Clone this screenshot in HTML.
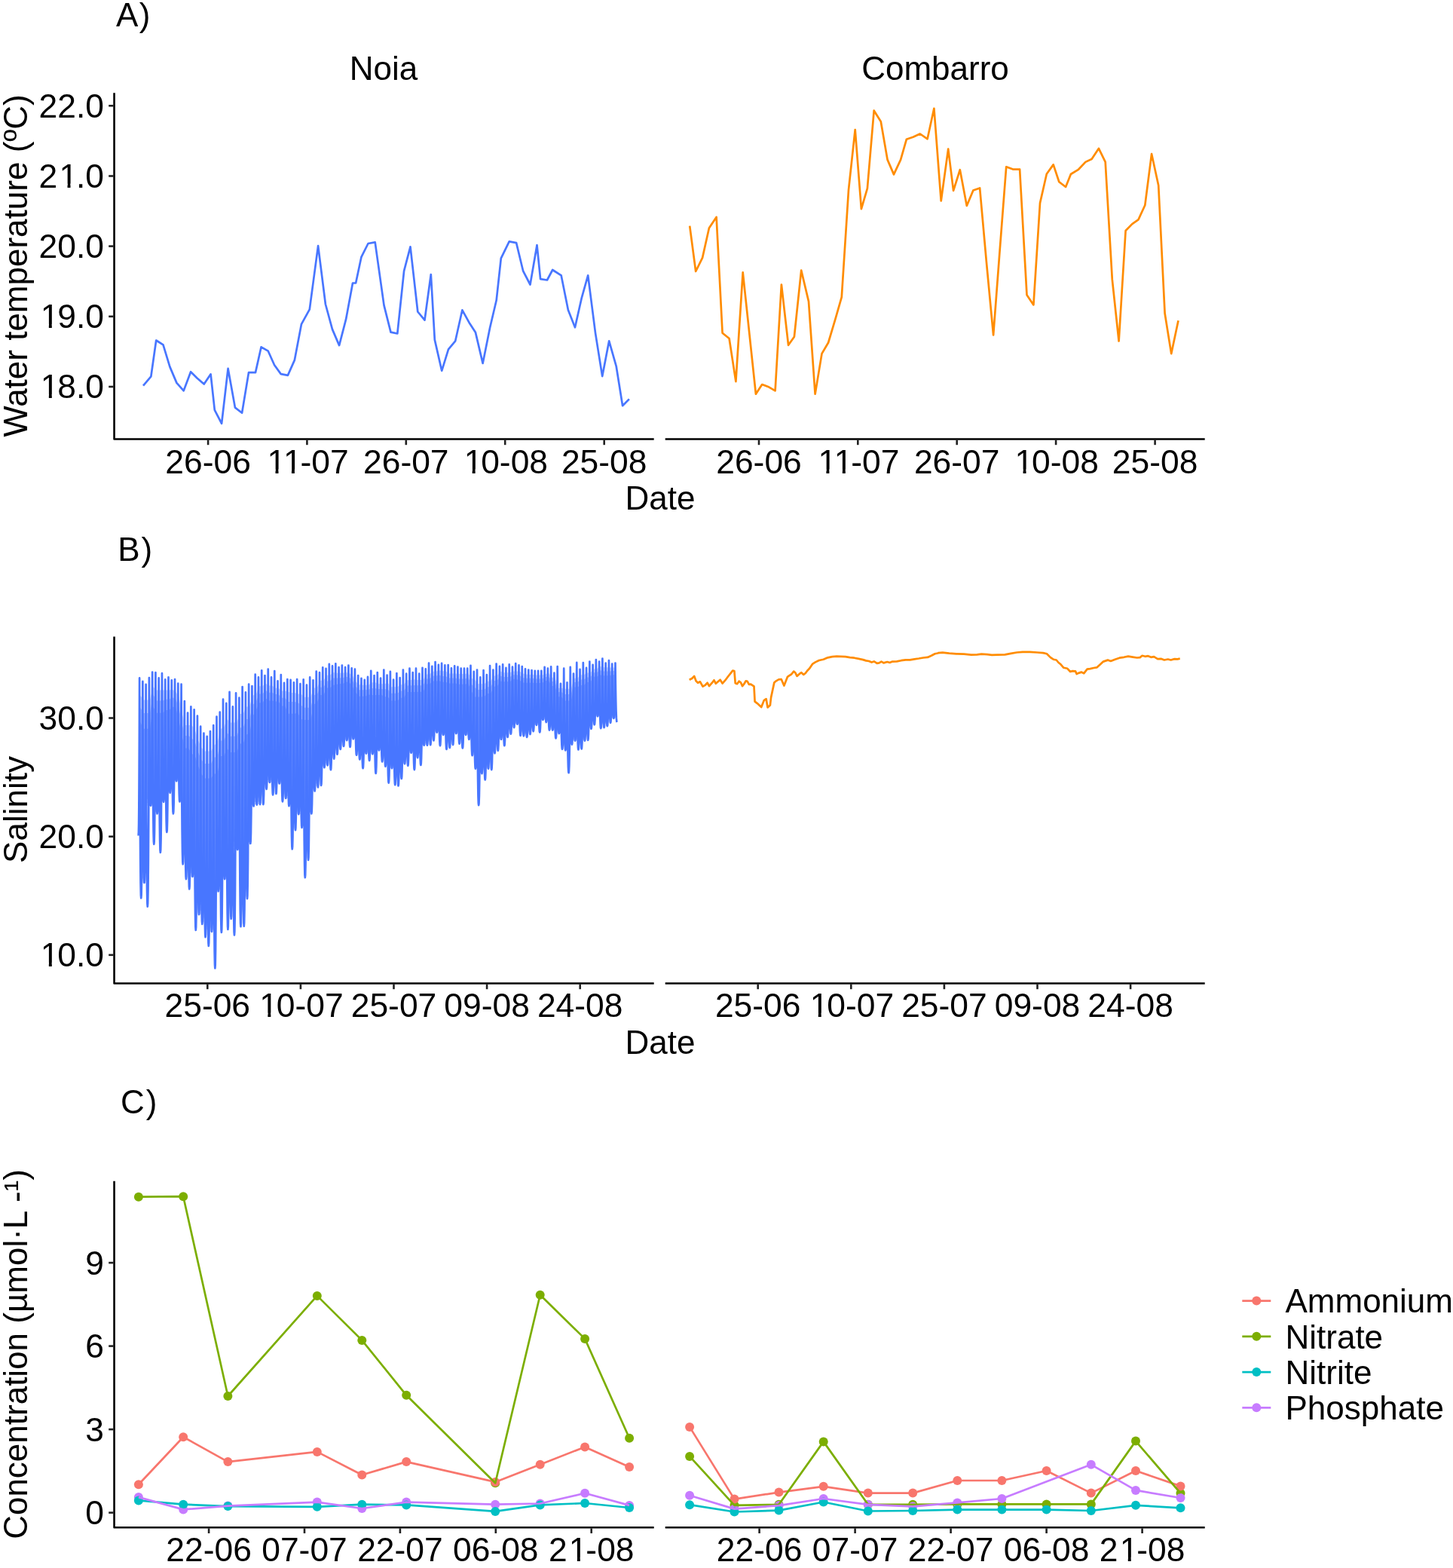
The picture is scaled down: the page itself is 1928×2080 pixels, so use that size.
<!DOCTYPE html>
<html lang="en">
<head>
<meta charset="utf-8">
<title>Water temperature, salinity and nutrient concentration - Noia and Combarro</title>
<style>
html,body{margin:0;padding:0;background:#fff;}
body{width:1928px;height:2080px;overflow:hidden;}
svg{display:block;}
svg text{font-family:"Liberation Sans", sans-serif;fill:#000;}
</style>
</head>
<body>
<svg width="1928" height="2080" viewBox="0 0 1928 2080">
<rect width="1928" height="2080" fill="#fff"/>
<text x="154.00" y="35.0" font-size="44px" text-anchor="start" dx="0 1.5">A)</text>
<text x="509.00" y="106.0" font-size="44px" text-anchor="middle" >Noia</text>
<text x="1241.00" y="106.0" font-size="44px" text-anchor="middle" >Combarro</text>
<path d="M151.55 123.30 L151.55 582.50 L867.70 582.50" fill="none" stroke="#000" stroke-width="2.60" stroke-linejoin="round"/>
<line x1="882.7" y1="582.5" x2="1598.7" y2="582.5" stroke="#000" stroke-width="2.60" stroke-linecap="butt"/>
<line x1="144.2" y1="140.3" x2="150.6" y2="140.3" stroke="#222" stroke-width="2.60" stroke-linecap="butt"/>
<text x="138.00" y="155.7" font-size="44.4px" text-anchor="end" >22.0</text>
<line x1="144.2" y1="233.5" x2="150.6" y2="233.5" stroke="#222" stroke-width="2.60" stroke-linecap="butt"/>
<text x="51.59" y="248.9" font-size="44.4px" text-anchor="start" dx="0 2.2 -2.2 0" class="one" >21.0</text>
<line x1="144.2" y1="326.6" x2="150.6" y2="326.6" stroke="#222" stroke-width="2.60" stroke-linecap="butt"/>
<text x="138.00" y="342.0" font-size="44.4px" text-anchor="end" >20.0</text>
<line x1="144.2" y1="419.8" x2="150.6" y2="419.8" stroke="#222" stroke-width="2.60" stroke-linecap="butt"/>
<text x="51.59" y="435.2" font-size="44.4px" text-anchor="start" dx="2.2 -2.2 0 0" class="one" >19.0</text>
<line x1="144.2" y1="513.0" x2="150.6" y2="513.0" stroke="#222" stroke-width="2.60" stroke-linecap="butt"/>
<text x="51.59" y="528.4" font-size="44.4px" text-anchor="start" dx="2.2 -2.2 0 0" class="one" >18.0</text>
<line x1="276.1" y1="583.5" x2="276.1" y2="590.2" stroke="#222" stroke-width="2.60" stroke-linecap="butt"/>
<text x="276.10" y="627.8" font-size="44.4px" text-anchor="middle" >26-06</text>
<line x1="407.4" y1="583.5" x2="407.4" y2="590.2" stroke="#222" stroke-width="2.60" stroke-linecap="butt"/>
<text x="352.27" y="627.8" font-size="44.4px" text-anchor="start" dx="2.2 0 -2.2 0 0" class="one" >11-07</text>
<line x1="538.8" y1="583.5" x2="538.8" y2="590.2" stroke="#222" stroke-width="2.60" stroke-linecap="butt"/>
<text x="538.80" y="627.8" font-size="44.4px" text-anchor="middle" >26-07</text>
<line x1="670.2" y1="583.5" x2="670.2" y2="590.2" stroke="#222" stroke-width="2.60" stroke-linecap="butt"/>
<text x="613.43" y="627.8" font-size="44.4px" text-anchor="start" dx="2.2 -2.2 0 0 0" class="one" >10-08</text>
<line x1="801.7" y1="583.5" x2="801.7" y2="590.2" stroke="#222" stroke-width="2.60" stroke-linecap="butt"/>
<text x="801.70" y="627.8" font-size="44.4px" text-anchor="middle" >25-08</text>
<line x1="1007.0" y1="583.5" x2="1007.0" y2="590.2" stroke="#222" stroke-width="2.60" stroke-linecap="butt"/>
<text x="1007.00" y="627.8" font-size="44.4px" text-anchor="middle" >26-06</text>
<line x1="1138.3" y1="583.5" x2="1138.3" y2="590.2" stroke="#222" stroke-width="2.60" stroke-linecap="butt"/>
<text x="1083.18" y="627.8" font-size="44.4px" text-anchor="start" dx="2.2 0 -2.2 0 0" class="one" >11-07</text>
<line x1="1269.7" y1="583.5" x2="1269.7" y2="590.2" stroke="#222" stroke-width="2.60" stroke-linecap="butt"/>
<text x="1269.70" y="627.8" font-size="44.4px" text-anchor="middle" >26-07</text>
<line x1="1401.1" y1="583.5" x2="1401.1" y2="590.2" stroke="#222" stroke-width="2.60" stroke-linecap="butt"/>
<text x="1344.33" y="627.8" font-size="44.4px" text-anchor="start" dx="2.2 -2.2 0 0 0" class="one" >10-08</text>
<line x1="1532.6" y1="583.5" x2="1532.6" y2="590.2" stroke="#222" stroke-width="2.60" stroke-linecap="butt"/>
<text x="1532.60" y="627.8" font-size="44.4px" text-anchor="middle" >25-08</text>
<text x="35.80" y="352.5" font-size="44px" text-anchor="middle" transform="rotate(-90 35.8 352.5)" >Water temperature (ºC)</text>
<text x="876.00" y="676.2" font-size="44px" text-anchor="middle" >Date</text>
<path d="M190.0 511.7 L200.4 499.3 L207.2 451.5 L216.5 457.4 L225.4 486.6 L234.4 507.9 L243.7 518.3 L253.1 493.2 L261.7 501.7 L270.7 509.5 L279.6 496.3 L284.8 543.8 L294.1 561.9 L302.6 488.9 L311.9 540.6 L321.1 547.7 L330.0 494.1 L339.0 494.1 L346.6 460.3 L355.8 465.7 L364.1 484.2 L372.7 496.1 L381.9 497.9 L390.9 477.6 L399.9 430.2 L410.8 410.4 L422.1 326.1 L431.9 403.5 L441.0 436.9 L450.1 458.1 L459.1 423.4 L468.0 375.5 L472.1 375.5 L479.5 340.8 L488.5 323.0 L497.7 321.4 L509.5 404.9 L518.5 440.6 L527.3 442.5 L536.1 359.4 L544.5 327.3 L554.3 413.5 L563.5 424.6 L571.8 364.0 L576.8 450.6 L586.2 491.8 L595.0 463.4 L604.2 452.3 L613.4 411.3 L622.4 427.7 L631.0 441.1 L640.6 481.9 L650.1 434.7 L658.7 398.3 L664.8 342.6 L675.7 320.4 L685.1 322.1 L694.2 359.7 L703.5 377.5 L712.5 325.2 L717.1 370.1 L726.0 371.5 L733.2 358.0 L744.7 365.4 L753.9 411.3 L763.0 434.3 L771.9 394.8 L780.2 365.4 L790.0 441.6 L799.2 499.1 L808.2 452.3 L817.7 485.8 L826.1 538.2 L834.9 529.4" fill="none" stroke="#4876FF" stroke-width="2.70" stroke-linejoin="round" stroke-linecap="butt" />
<path d="M915.2 299.6 L923.2 360.0 L932.1 341.9 L940.9 302.5 L950.6 287.9 L958.6 441.8 L967.6 449.0 L976.4 506.1 L985.7 361.4 L1002.9 522.7 L1011.2 510.0 L1019.2 512.9 L1028.6 518.4 L1036.9 377.5 L1046.1 457.8 L1053.9 446.7 L1063.2 358.6 L1073.0 399.9 L1081.6 522.7 L1090.5 469.1 L1099.1 454.5 L1108.4 423.3 L1116.8 394.1 L1126.0 251.9 L1134.7 172.0 L1142.9 277.2 L1150.9 249.9 L1159.7 146.7 L1168.8 161.3 L1177.6 211.9 L1186.0 231.4 L1195.1 211.9 L1202.9 184.7 L1211.7 181.8 L1220.8 177.5 L1230.6 184.3 L1239.4 143.8 L1248.7 266.5 L1258.2 197.7 L1265.1 252.9 L1273.8 225.2 L1282.8 272.9 L1291.4 252.5 L1300.1 249.4 L1308.9 347.3 L1318.1 444.4 L1326.8 329.8 L1335.2 221.3 L1344.0 224.6 L1353.1 224.6 L1362.5 391.2 L1371.4 404.4 L1380.0 269.4 L1388.8 230.8 L1397.7 218.4 L1405.3 241.2 L1414.1 248.0 L1420.9 231.0 L1430.6 225.2 L1440.4 214.9 L1448.6 211.0 L1457.9 196.9 L1466.7 214.9 L1475.8 370.7 L1484.6 452.5 L1493.6 306.0 L1502.3 297.1 L1510.5 291.4 L1519.3 272.3 L1528.1 204.2 L1537.2 246.0 L1545.6 415.5 L1554.2 469.1 L1563.5 425.3" fill="none" stroke="#FF8C00" stroke-width="2.70" stroke-linejoin="round" stroke-linecap="butt" />
<text x="156.20" y="743.6" font-size="44px" text-anchor="start" dx="0 2">B)</text>
<path d="M151.55 844.40 L151.55 1304.50 L867.70 1304.50" fill="none" stroke="#000" stroke-width="2.60" stroke-linejoin="round"/>
<line x1="882.7" y1="1304.5" x2="1598.7" y2="1304.5" stroke="#000" stroke-width="2.60" stroke-linecap="butt"/>
<line x1="144.2" y1="952.5" x2="150.6" y2="952.5" stroke="#222" stroke-width="2.60" stroke-linecap="butt"/>
<text x="138.00" y="967.9" font-size="44.4px" text-anchor="end" >30.0</text>
<line x1="144.2" y1="1109.7" x2="150.6" y2="1109.7" stroke="#222" stroke-width="2.60" stroke-linecap="butt"/>
<text x="138.00" y="1125.1" font-size="44.4px" text-anchor="end" >20.0</text>
<line x1="144.2" y1="1266.8" x2="150.6" y2="1266.8" stroke="#222" stroke-width="2.60" stroke-linecap="butt"/>
<text x="51.59" y="1282.2" font-size="44.4px" text-anchor="start" dx="2.2 -2.2 0 0" class="one" >10.0</text>
<line x1="275.3" y1="1305.5" x2="275.3" y2="1312.2" stroke="#222" stroke-width="2.60" stroke-linecap="butt"/>
<text x="275.30" y="1348.9" font-size="44.4px" text-anchor="middle" >25-06</text>
<line x1="398.9" y1="1305.5" x2="398.9" y2="1312.2" stroke="#222" stroke-width="2.60" stroke-linecap="butt"/>
<text x="342.13" y="1348.9" font-size="44.4px" text-anchor="start" dx="2.2 -2.2 0 0 0" class="one" >10-07</text>
<line x1="522.5" y1="1305.5" x2="522.5" y2="1312.2" stroke="#222" stroke-width="2.60" stroke-linecap="butt"/>
<text x="522.50" y="1348.9" font-size="44.4px" text-anchor="middle" >25-07</text>
<line x1="646.1" y1="1305.5" x2="646.1" y2="1312.2" stroke="#222" stroke-width="2.60" stroke-linecap="butt"/>
<text x="646.10" y="1348.9" font-size="44.4px" text-anchor="middle" >09-08</text>
<line x1="769.7" y1="1305.5" x2="769.7" y2="1312.2" stroke="#222" stroke-width="2.60" stroke-linecap="butt"/>
<text x="769.70" y="1348.9" font-size="44.4px" text-anchor="middle" >24-08</text>
<line x1="1005.7" y1="1305.5" x2="1005.7" y2="1312.2" stroke="#222" stroke-width="2.60" stroke-linecap="butt"/>
<text x="1005.70" y="1348.9" font-size="44.4px" text-anchor="middle" >25-06</text>
<line x1="1129.3" y1="1305.5" x2="1129.3" y2="1312.2" stroke="#222" stroke-width="2.60" stroke-linecap="butt"/>
<text x="1072.53" y="1348.9" font-size="44.4px" text-anchor="start" dx="2.2 -2.2 0 0 0" class="one" >10-07</text>
<line x1="1252.9" y1="1305.5" x2="1252.9" y2="1312.2" stroke="#222" stroke-width="2.60" stroke-linecap="butt"/>
<text x="1252.90" y="1348.9" font-size="44.4px" text-anchor="middle" >25-07</text>
<line x1="1376.5" y1="1305.5" x2="1376.5" y2="1312.2" stroke="#222" stroke-width="2.60" stroke-linecap="butt"/>
<text x="1376.50" y="1348.9" font-size="44.4px" text-anchor="middle" >09-08</text>
<line x1="1500.1" y1="1305.5" x2="1500.1" y2="1312.2" stroke="#222" stroke-width="2.60" stroke-linecap="butt"/>
<text x="1500.10" y="1348.9" font-size="44.4px" text-anchor="middle" >24-08</text>
<text x="35.80" y="1074.0" font-size="44px" text-anchor="middle" transform="rotate(-90 35.8 1074.0)" >Salinity</text>
<text x="876.00" y="1397.9" font-size="44px" text-anchor="middle" >Date</text>
<path d="M186.1 922.6 L190.4 928.4 L194.6 928.4 L198.9 928.4 L203.2 910.9 L207.4 915.6 L211.7 915.6 L216.0 915.6 L220.2 915.5 L224.5 915.5 L228.8 914.7 L233.0 917.6 L237.3 924.3 L241.6 946.5 L245.8 962.0 L250.1 962.0 L254.4 962.0 L258.6 967.9 L262.9 982.1 L267.2 991.4 L271.4 996.4 L275.7 996.4 L280.0 996.4 L284.2 988.7 L288.5 984.7 L292.8 966.9 L297.0 965.1 L301.3 953.9 L305.5 958.6 L309.8 958.6 L314.1 958.6 L318.3 947.0 L322.6 947.0 L326.9 937.5 L331.1 937.5 L335.4 922.4 L339.7 921.3 L343.9 910.2 L348.2 910.2 L352.5 906.7 L356.7 909.4 L361.0 909.4 L365.3 912.8 L369.5 912.8 L373.8 916.6 L378.1 916.6 L382.3 917.7 L386.6 919.0 L390.9 919.0 L395.1 920.6 L399.4 920.6 L403.7 924.8 L407.9 924.8 L412.2 924.8 L416.5 912.6 L420.7 912.6 L425.0 902.7 L429.3 902.7 L433.5 895.8 L437.8 895.8 L442.1 892.1 L446.3 892.8 L450.6 892.8 L454.9 892.8 L459.1 892.0 L463.4 892.9 L467.7 895.7 L471.9 903.9 L476.2 908.2 L480.5 908.8 L484.7 908.8 L489.0 908.8 L493.3 905.6 L497.5 905.1 L501.8 907.3 L506.0 907.3 L510.3 907.3 L514.6 905.7 L518.8 911.3 L523.1 911.3 L527.4 911.3 L531.6 908.3 L535.9 908.3 L540.2 902.3 L544.4 902.3 L548.7 901.2 L553.0 902.0 L557.2 902.0 L561.5 902.0 L565.8 894.4 L570.0 894.4 L574.3 890.7 L578.6 890.7 L582.8 889.3 L587.1 890.2 L591.4 890.2 L595.6 893.4 L599.9 893.4 L604.2 893.4 L608.4 894.1 L612.7 894.1 L617.0 894.1 L621.2 893.3 L625.5 899.8 L629.8 901.2 L634.0 907.3 L638.3 907.3 L642.6 907.3 L646.8 903.8 L651.1 903.8 L655.4 896.4 L659.6 896.4 L663.9 890.6 L668.2 892.3 L672.4 892.3 L676.7 892.3 L681.0 890.4 L685.2 890.4 L689.5 890.4 L693.8 893.6 L698.0 894.6 L702.3 894.9 L706.6 894.9 L710.8 895.5 L715.1 895.5 L719.4 895.5 L723.6 894.4 L727.9 892.4 L732.1 898.8 L736.4 898.8 L740.7 912.8 L744.9 912.8 L749.2 913.8 L753.5 913.8 L757.7 913.8 L762.0 899.8 L766.3 899.8 L770.5 895.2 L774.8 895.2 L779.1 892.6 L783.3 892.6 L787.6 887.4 L791.9 887.4 L796.1 883.7 L800.4 885.3 L804.7 885.3 L808.9 885.5 L813.2 885.5 L817.5 885.5 L817.5 952.9 L813.2 952.9 L808.9 952.9 L804.7 958.8 L800.4 963.2 L796.1 950.2 L791.9 950.2 L787.6 950.2 L783.3 961.3 L779.1 966.8 L774.8 981.8 L770.5 982.7 L766.3 982.7 L762.0 982.7 L757.7 982.7 L753.5 987.6 L749.2 993.8 L744.9 973.0 L740.7 973.0 L736.4 968.5 L732.1 968.5 L727.9 958.0 L723.6 954.9 L719.4 954.9 L715.1 954.9 L710.8 961.9 L706.6 961.9 L702.3 970.1 L698.0 974.0 L693.8 975.9 L689.5 960.7 L685.2 960.7 L681.0 960.7 L676.7 965.2 L672.4 973.6 L668.2 977.9 L663.9 980.8 L659.6 980.8 L655.4 995.8 L651.1 999.3 L646.8 1019.7 L642.6 1019.7 L638.3 1026.2 L634.0 1019.7 L629.8 1002.2 L625.5 980.8 L621.2 974.9 L617.0 974.9 L612.7 974.9 L608.4 973.0 L604.2 973.0 L599.9 973.0 L595.6 988.0 L591.4 974.9 L587.1 974.9 L582.8 971.6 L578.6 971.6 L574.3 971.6 L570.0 982.3 L565.8 988.2 L561.5 988.6 L557.2 988.6 L553.0 1005.1 L548.7 998.7 L544.4 998.7 L540.2 998.7 L535.9 1013.3 L531.6 1013.3 L527.4 1033.0 L523.1 1019.2 L518.8 1019.2 L514.6 1016.8 L510.3 1010.4 L506.0 995.4 L501.8 995.4 L497.5 995.4 L493.3 1000.3 L489.0 999.7 L484.7 999.7 L480.5 999.7 L476.2 1001.7 L471.9 980.3 L467.7 980.3 L463.4 980.3 L459.1 982.2 L454.9 982.2 L450.6 990.0 L446.3 993.9 L442.1 1000.7 L437.8 1006.6 L433.5 1015.3 L429.3 1015.3 L425.0 1018.2 L420.7 1041.9 L416.5 1044.4 L412.2 1049.5 L407.9 1079.3 L403.7 1097.9 L399.4 1080.1 L395.1 1080.1 L390.9 1080.1 L386.6 1069.2 L382.3 1059.0 L378.1 1059.0 L373.8 1039.5 L369.5 1039.5 L365.3 1039.5 L361.0 1037.9 L356.7 1037.9 L352.5 1037.9 L348.2 1046.8 L343.9 1067.1 L339.7 1067.1 L335.4 1067.6 L331.1 1069.5 L326.9 1119.0 L322.6 1192.1 L318.3 1127.1 L314.1 1127.1 L309.8 1127.1 L305.5 1218.9 L301.3 1166.1 L297.0 1166.1 L292.8 1166.1 L288.5 1182.3 L284.2 1182.3 L280.0 1235.9 L275.7 1235.9 L271.4 1225.8 L267.2 1213.2 L262.9 1213.2 L258.6 1162.9 L254.4 1162.9 L250.1 1162.9 L245.8 1146.3 L241.6 1063.5 L237.3 1036.2 L233.0 1036.2 L228.8 1036.2 L224.5 1051.7 L220.2 1051.7 L216.0 1063.8 L211.7 1063.8 L207.4 1079.3 L203.2 1068.7 L198.9 1068.7 L194.6 1068.7 L190.4 1171.0 L186.1 1171.0 Z" fill="#4876FF" fill-opacity="0.30" stroke="none"/>
<path d="M186.1 938.6 L190.4 946.1 L194.6 946.1 L198.9 946.1 L203.2 921.3 L207.4 929.5 L211.7 929.5 L216.0 929.5 L220.2 927.7 L224.5 927.7 L228.8 925.3 L233.0 927.0 L237.3 938.6 L241.6 960.7 L245.8 976.0 L250.1 976.0 L254.4 979.3 L258.6 983.8 L262.9 997.8 L267.2 1007.7 L271.4 1013.1 L275.7 1013.1 L280.0 1013.1 L284.2 1004.7 L288.5 1004.0 L292.8 982.6 L297.0 982.6 L301.3 971.9 L305.5 976.8 L309.8 976.8 L314.1 976.8 L318.3 965.2 L322.6 965.2 L326.9 953.9 L331.1 953.9 L335.4 935.1 L339.7 930.8 L343.9 920.4 L348.2 920.4 L352.5 915.7 L356.7 918.7 L361.0 918.7 L365.3 921.0 L369.5 921.0 L373.8 925.7 L378.1 925.7 L382.3 931.1 L386.6 931.1 L390.9 931.1 L395.1 932.0 L399.4 935.5 L403.7 938.8 L407.9 938.8 L412.2 938.8 L416.5 921.9 L420.7 921.5 L425.0 911.7 L429.3 911.7 L433.5 903.5 L437.8 903.5 L442.1 899.4 L446.3 899.4 L450.6 899.3 L454.9 899.3 L459.1 897.8 L463.4 898.6 L467.7 902.5 L471.9 910.6 L476.2 915.3 L480.5 915.3 L484.7 915.3 L489.0 914.7 L493.3 912.9 L497.5 912.9 L501.8 914.0 L506.0 914.0 L510.3 914.2 L514.6 914.2 L518.8 919.7 L523.1 919.7 L527.4 919.7 L531.6 916.4 L535.9 916.4 L540.2 909.6 L544.4 909.6 L548.7 908.9 L553.0 909.3 L557.2 909.3 L561.5 909.3 L565.8 900.4 L570.0 900.4 L574.3 896.6 L578.6 896.6 L582.8 895.8 L587.1 896.9 L591.4 896.9 L595.6 899.5 L599.9 899.5 L604.2 899.5 L608.4 900.4 L612.7 900.4 L617.0 900.4 L621.2 898.9 L625.5 907.5 L629.8 912.0 L634.0 915.0 L638.3 915.0 L642.6 915.0 L646.8 911.3 L651.1 911.3 L655.4 903.0 L659.6 903.0 L663.9 896.4 L668.2 897.9 L672.4 897.9 L676.7 897.9 L681.0 895.2 L685.2 895.2 L689.5 896.0 L693.8 899.0 L698.0 899.7 L702.3 899.7 L706.6 899.7 L710.8 900.4 L715.1 900.4 L719.4 900.4 L723.6 898.3 L727.9 897.3 L732.1 904.0 L736.4 904.0 L740.7 918.1 L744.9 918.1 L749.2 921.0 L753.5 921.0 L757.7 921.0 L762.0 905.1 L766.3 905.1 L770.5 901.6 L774.8 901.6 L779.1 898.4 L783.3 898.4 L787.6 892.2 L791.9 892.2 L796.1 889.1 L800.4 890.4 L804.7 890.4 L808.9 890.4 L813.2 889.9 L817.5 889.9 L817.5 951.5 L813.2 951.5 L808.9 951.5 L804.7 957.1 L800.4 961.6 L796.1 948.7 L791.9 948.7 L787.6 948.7 L783.3 959.7 L779.1 965.0 L774.8 979.8 L770.5 980.7 L766.3 980.9 L762.0 980.9 L757.7 980.9 L753.5 985.5 L749.2 992.1 L744.9 971.2 L740.7 971.2 L736.4 966.8 L732.1 966.8 L727.9 956.5 L723.6 953.6 L719.4 953.6 L715.1 953.6 L710.8 960.4 L706.6 960.4 L702.3 968.4 L698.0 972.3 L693.8 974.0 L689.5 959.1 L685.2 959.1 L681.0 959.1 L676.7 963.6 L672.4 971.7 L668.2 976.0 L663.9 978.8 L659.6 978.8 L655.4 993.5 L651.1 997.1 L646.8 1017.2 L642.6 1017.2 L638.3 1023.6 L634.0 1017.2 L629.8 999.8 L625.5 978.9 L621.2 973.2 L617.0 973.2 L612.7 973.2 L608.4 971.2 L604.2 971.2 L599.9 971.2 L595.6 986.0 L591.4 973.0 L587.1 973.0 L582.8 969.8 L578.6 969.8 L574.3 969.8 L570.0 980.4 L565.8 986.0 L561.5 986.5 L557.2 986.5 L553.0 1002.8 L548.7 996.5 L544.4 996.5 L540.2 996.5 L535.9 1010.8 L531.6 1010.8 L527.4 1030.3 L523.1 1016.6 L518.8 1016.6 L514.6 1014.3 L510.3 1008.2 L506.0 993.3 L501.8 993.3 L497.5 993.3 L493.3 998.1 L489.0 997.8 L484.7 997.8 L480.5 997.8 L476.2 999.4 L471.9 978.4 L467.7 978.4 L463.4 978.4 L459.1 980.3 L454.9 980.3 L450.6 987.8 L446.3 991.7 L442.1 998.3 L437.8 1004.1 L433.5 1012.8 L429.3 1012.8 L425.0 1015.6 L420.7 1038.9 L416.5 1041.3 L412.2 1046.6 L407.9 1075.6 L403.7 1094.1 L399.4 1076.5 L395.1 1076.5 L390.9 1076.5 L386.6 1065.8 L382.3 1055.9 L378.1 1055.9 L373.8 1036.8 L369.5 1036.8 L365.3 1036.8 L361.0 1034.9 L356.7 1034.9 L352.5 1034.9 L348.2 1043.8 L343.9 1063.5 L339.7 1063.7 L335.4 1064.1 L331.1 1066.3 L326.9 1114.8 L322.6 1186.6 L318.3 1123.0 L314.1 1123.0 L309.8 1123.0 L305.5 1212.8 L301.3 1161.3 L297.0 1161.3 L292.8 1161.3 L288.5 1177.7 L284.2 1177.7 L280.0 1230.6 L275.7 1230.6 L271.4 1220.6 L267.2 1207.9 L262.9 1207.9 L258.6 1158.3 L254.4 1158.3 L250.1 1158.3 L245.8 1141.5 L241.6 1060.4 L237.3 1033.5 L233.0 1033.5 L228.8 1033.5 L224.5 1048.6 L220.2 1048.6 L216.0 1060.4 L211.7 1060.4 L207.4 1075.5 L203.2 1065.3 L198.9 1065.3 L194.6 1065.3 L190.4 1165.6 L186.1 1165.6 Z" fill="#4876FF" fill-opacity="0.40" stroke="none"/>
<path d="M186.1 957.8 L190.4 966.8 L194.6 966.8 L198.9 966.8 L203.2 937.3 L207.4 945.7 L211.7 945.7 L216.0 945.7 L220.2 941.9 L224.5 941.9 L228.8 937.7 L233.0 938.0 L237.3 955.3 L241.6 977.2 L245.8 992.4 L250.1 992.4 L254.4 999.8 L258.6 1002.2 L262.9 1016.1 L267.2 1026.6 L271.4 1032.5 L275.7 1032.5 L280.0 1032.5 L284.2 1026.6 L288.5 1026.6 L292.8 1003.1 L297.0 1003.1 L301.3 992.9 L305.5 998.0 L309.8 998.0 L314.1 998.0 L318.3 986.4 L322.6 986.4 L326.9 974.6 L331.1 973.1 L335.4 949.9 L339.7 942.0 L343.9 932.2 L348.2 932.2 L352.5 926.2 L356.7 929.6 L361.0 929.6 L365.3 930.5 L369.5 930.5 L373.8 936.5 L378.1 936.5 L382.3 946.8 L386.6 946.8 L390.9 946.8 L395.1 945.4 L399.4 953.9 L403.7 955.0 L407.9 955.0 L412.2 955.0 L416.5 934.6 L420.7 931.8 L425.0 922.1 L429.3 922.1 L433.5 912.5 L437.8 912.5 L442.1 909.0 L446.3 908.1 L450.6 906.9 L454.9 906.9 L459.1 904.6 L463.4 905.1 L467.7 910.5 L471.9 918.4 L476.2 923.7 L480.5 923.7 L484.7 923.7 L489.0 921.5 L493.3 922.0 L497.5 922.0 L501.8 922.0 L506.0 921.7 L510.3 924.2 L514.6 924.2 L518.8 929.4 L523.1 929.4 L527.4 929.4 L531.6 925.8 L535.9 925.8 L540.2 918.1 L544.4 918.1 L548.7 917.9 L553.0 917.9 L557.2 917.8 L561.5 917.8 L565.8 907.5 L570.0 907.5 L574.3 903.5 L578.6 903.5 L582.8 903.3 L587.1 904.7 L591.4 904.7 L595.6 906.6 L599.9 906.6 L604.2 906.6 L608.4 907.8 L612.7 907.8 L617.0 907.8 L621.2 906.7 L625.5 916.6 L629.8 924.5 L634.0 924.5 L638.3 924.5 L642.6 923.9 L646.8 920.0 L651.1 920.0 L655.4 910.8 L659.6 910.8 L663.9 903.5 L668.2 904.3 L672.4 904.3 L676.7 904.3 L681.0 900.8 L685.2 901.1 L689.5 902.4 L693.8 905.4 L698.0 905.7 L702.3 905.7 L706.6 905.7 L710.8 906.1 L715.1 906.1 L719.4 906.1 L723.6 903.1 L727.9 903.1 L732.1 910.1 L736.4 910.1 L740.7 924.2 L744.9 924.2 L749.2 929.4 L753.5 929.4 L757.7 929.4 L762.0 911.4 L766.3 911.4 L770.5 909.0 L774.8 909.0 L779.1 905.1 L783.3 905.1 L787.6 897.7 L791.9 897.7 L796.1 895.3 L800.4 896.2 L804.7 896.2 L808.9 896.2 L813.2 895.2 L817.5 895.2 L817.5 949.3 L813.2 949.3 L808.9 949.3 L804.7 954.6 L800.4 959.1 L796.1 946.4 L791.9 946.4 L787.6 946.4 L783.3 957.3 L779.1 962.3 L774.8 977.0 L770.5 977.5 L766.3 978.3 L762.0 978.3 L757.7 978.3 L753.5 982.5 L749.2 989.5 L744.9 968.5 L740.7 968.5 L736.4 964.3 L732.1 964.3 L727.9 954.3 L723.6 951.6 L719.4 951.6 L715.1 951.6 L710.8 958.3 L706.6 958.3 L702.3 966.0 L698.0 969.7 L693.8 971.2 L689.5 956.7 L685.2 956.7 L681.0 956.7 L676.7 961.2 L672.4 969.0 L668.2 973.3 L663.9 975.9 L659.6 975.9 L655.4 990.0 L651.1 993.8 L646.8 1013.5 L642.6 1013.5 L638.3 1019.8 L634.0 1013.3 L629.8 996.2 L625.5 976.1 L621.2 970.5 L617.0 970.5 L612.7 970.5 L608.4 968.5 L604.2 968.5 L599.9 968.5 L595.6 982.9 L591.4 970.2 L587.1 970.2 L582.8 966.9 L578.6 966.9 L574.3 966.9 L570.0 977.4 L565.8 982.7 L561.5 983.4 L557.2 983.4 L553.0 999.2 L548.7 993.1 L544.4 993.1 L540.2 993.1 L535.9 1007.1 L531.6 1007.1 L527.4 1026.3 L523.1 1012.7 L518.8 1012.7 L514.6 1010.4 L510.3 1004.8 L506.0 990.2 L501.8 990.2 L497.5 990.2 L493.3 994.7 L489.0 994.7 L484.7 994.9 L480.5 994.9 L476.2 996.0 L471.9 975.6 L467.7 975.6 L463.4 975.6 L459.1 977.4 L454.9 977.4 L450.6 984.6 L446.3 988.5 L442.1 994.7 L437.8 1000.4 L433.5 1008.9 L429.3 1008.9 L425.0 1011.6 L420.7 1034.4 L416.5 1036.7 L412.2 1042.2 L407.9 1070.2 L403.7 1088.4 L399.4 1071.1 L395.1 1071.1 L390.9 1071.1 L386.6 1060.8 L382.3 1051.3 L378.1 1051.3 L373.8 1032.7 L369.5 1032.7 L365.3 1032.7 L361.0 1030.4 L356.7 1030.4 L352.5 1030.4 L348.2 1039.3 L343.9 1058.2 L339.7 1058.6 L335.4 1058.9 L331.1 1061.5 L326.9 1108.5 L322.6 1178.4 L318.3 1116.8 L314.1 1116.8 L309.8 1116.8 L305.5 1203.8 L301.3 1154.2 L297.0 1154.2 L292.8 1154.2 L288.5 1170.8 L284.2 1170.8 L280.0 1222.6 L275.7 1222.6 L271.4 1212.7 L267.2 1200.0 L262.9 1200.0 L258.6 1151.6 L254.4 1151.6 L250.1 1151.6 L245.8 1134.4 L241.6 1055.7 L237.3 1029.5 L233.0 1029.5 L228.8 1029.5 L224.5 1044.0 L220.2 1044.0 L216.0 1055.3 L211.7 1055.3 L207.4 1069.9 L203.2 1060.2 L198.9 1060.2 L194.6 1060.2 L190.4 1157.6 L186.1 1157.6 Z" fill="#4876FF" fill-opacity="0.50" stroke="none"/>
<path d="M183.60 1108.5 L183.85 1105.7 L184.10 1093.5 L184.35 1068.9 L184.60 1029.5 L184.85 973.5 L185.10 899.4 L185.46 1002.8 L185.81 1081.0 L186.17 1136.0 L186.52 1170.4 L186.88 1187.3 L187.23 1191.3 L187.59 1187.4 L187.94 1170.7 L188.30 1136.8 L188.66 1082.7 L189.01 1005.7 L189.37 903.9 L189.72 998.5 L190.08 1070.0 L190.43 1120.4 L190.79 1151.9 L191.14 1167.4 L191.50 1171.0 L191.85 1167.4 L192.21 1152.1 L192.57 1121.1 L192.92 1071.5 L193.28 1001.1 L193.63 907.8 L193.99 1012.3 L194.34 1091.2 L194.70 1146.8 L195.05 1181.5 L195.41 1198.6 L195.77 1202.6 L196.12 1198.5 L196.48 1180.9 L196.83 1145.1 L197.19 1087.9 L197.54 1006.6 L197.90 899.0 L198.25 959.2 L198.61 1004.6 L198.96 1036.6 L199.32 1056.6 L199.68 1066.4 L200.03 1068.7 L200.39 1066.3 L200.74 1056.0 L201.10 1035.2 L201.45 1001.8 L201.81 954.4 L202.16 891.6 L202.52 972.5 L202.88 1033.6 L203.23 1076.6 L203.59 1103.5 L203.94 1116.7 L204.30 1119.8 L204.65 1116.7 L205.01 1103.5 L205.36 1076.7 L205.72 1033.8 L206.07 972.9 L206.43 892.2 L206.79 958.5 L207.14 1008.6 L207.50 1043.8 L207.85 1065.9 L208.21 1076.7 L208.56 1079.3 L208.92 1076.8 L209.27 1066.4 L209.63 1045.2 L209.99 1011.3 L210.34 963.1 L210.70 899.4 L211.05 981.4 L211.41 1043.4 L211.76 1087.0 L212.12 1114.3 L212.47 1127.7 L212.83 1130.9 L213.18 1127.7 L213.54 1113.9 L213.90 1085.8 L214.25 1041.1 L214.61 977.4 L214.96 893.2 L215.32 953.7 L215.67 999.3 L216.03 1031.5 L216.38 1051.6 L216.74 1061.5 L217.09 1063.8 L217.45 1061.6 L217.81 1052.2 L218.16 1033.0 L218.52 1002.4 L218.87 958.9 L219.23 901.4 L219.58 973.2 L219.94 1027.4 L220.29 1065.5 L220.65 1089.4 L221.01 1101.2 L221.36 1103.9 L221.72 1101.1 L222.07 1089.2 L222.43 1065.0 L222.78 1026.3 L223.14 971.3 L223.49 898.4 L223.85 952.7 L224.21 993.8 L224.56 1022.6 L224.92 1040.7 L225.27 1049.6 L225.63 1051.7 L225.98 1049.6 L226.34 1041.0 L226.69 1023.4 L227.05 995.2 L227.40 955.3 L227.76 902.3 L228.12 965.0 L228.47 1012.4 L228.83 1045.7 L229.18 1066.6 L229.54 1076.9 L229.89 1079.3 L230.25 1076.8 L230.60 1066.5 L230.96 1045.5 L231.31 1011.9 L231.67 964.2 L232.03 901.0 L232.38 948.9 L232.74 985.1 L233.09 1010.6 L233.45 1026.5 L233.80 1034.4 L234.16 1036.2 L234.51 1034.5 L234.87 1027.0 L235.23 1011.7 L235.58 987.3 L235.94 952.6 L236.29 906.6 L236.65 962.2 L237.00 1004.2 L237.36 1033.8 L237.71 1052.3 L238.07 1061.4 L238.43 1063.5 L238.78 1061.4 L239.14 1052.3 L239.49 1034.0 L239.85 1004.6 L240.20 962.9 L240.56 907.6 L240.91 992.2 L241.27 1056.1 L241.62 1101.1 L241.98 1129.2 L242.34 1143.1 L242.69 1146.3 L243.05 1143.4 L243.40 1130.8 L243.76 1105.3 L244.11 1064.6 L244.47 1006.7 L244.82 930.0 L245.18 1013.7 L245.54 1076.9 L245.89 1121.4 L246.25 1149.2 L246.60 1162.9 L246.96 1166.1 L247.31 1163.1 L247.67 1150.3 L248.02 1124.3 L248.38 1082.8 L248.73 1023.7 L249.09 945.6 L249.45 1028.5 L249.80 1091.0 L250.16 1135.1 L250.51 1162.7 L250.87 1176.2 L251.22 1179.4 L251.58 1176.1 L251.93 1162.1 L252.29 1133.6 L252.65 1088.0 L253.00 1023.2 L253.36 937.4 L253.71 1017.3 L254.07 1077.7 L254.42 1120.1 L254.78 1146.7 L255.13 1159.8 L255.49 1162.9 L255.84 1159.9 L256.20 1147.0 L256.56 1120.9 L256.91 1079.1 L257.27 1019.8 L257.62 941.3 L257.98 1045.0 L258.33 1123.4 L258.69 1178.5 L259.04 1213.0 L259.40 1230.0 L259.75 1234.0 L260.11 1230.1 L260.47 1213.6 L260.82 1180.1 L261.18 1126.5 L261.53 1050.3 L261.89 949.5 L262.24 1042.9 L262.60 1113.5 L262.95 1163.2 L263.31 1194.3 L263.67 1209.6 L264.02 1213.2 L264.38 1209.8 L264.73 1195.3 L265.09 1165.9 L265.44 1118.9 L265.80 1052.1 L266.15 963.7 L266.51 1056.6 L266.87 1126.8 L267.22 1176.2 L267.58 1207.1 L267.93 1222.3 L268.29 1225.8 L268.64 1222.4 L269.00 1207.7 L269.35 1177.8 L269.71 1130.1 L270.06 1062.3 L270.42 972.5 L270.78 1068.4 L271.13 1140.9 L271.49 1191.9 L271.84 1223.8 L272.20 1239.5 L272.55 1243.2 L272.91 1239.6 L273.26 1224.1 L273.62 1192.8 L273.97 1142.6 L274.33 1071.3 L274.69 976.9 L275.04 1075.5 L275.40 1149.9 L275.75 1202.2 L276.11 1235.0 L276.46 1251.1 L276.82 1254.9 L277.17 1251.0 L277.53 1234.5 L277.89 1200.9 L278.24 1147.3 L278.60 1071.1 L278.95 970.1 L279.31 1064.3 L279.66 1135.5 L280.02 1185.6 L280.37 1216.9 L280.73 1232.3 L281.08 1235.9 L281.44 1232.2 L281.80 1216.3 L282.15 1184.0 L282.51 1132.5 L282.86 1059.2 L283.22 962.1 L283.57 1076.3 L283.93 1162.5 L284.28 1223.3 L284.64 1261.2 L285.00 1279.9 L285.35 1284.3 L285.71 1279.8 L286.06 1260.4 L286.42 1221.1 L286.77 1158.2 L287.13 1068.9 L287.48 950.6 L287.84 1032.8 L288.19 1094.8 L288.55 1138.4 L288.91 1165.7 L289.26 1179.2 L289.62 1182.3 L289.97 1179.1 L290.33 1165.3 L290.68 1137.3 L291.04 1092.5 L291.39 1028.9 L291.75 944.6 L292.11 1048.2 L292.46 1126.5 L292.82 1181.6 L293.17 1216.1 L293.53 1233.1 L293.88 1237.0 L294.24 1232.8 L294.59 1214.9 L294.95 1178.4 L295.30 1120.1 L295.66 1037.3 L296.02 927.7 L296.37 1012.2 L296.73 1076.0 L297.08 1120.9 L297.44 1149.0 L297.79 1162.9 L298.15 1166.1 L298.50 1162.9 L298.86 1149.4 L299.22 1121.9 L299.57 1078.0 L299.93 1015.6 L300.28 932.9 L300.64 1039.3 L300.99 1119.6 L301.35 1176.1 L301.70 1211.5 L302.06 1228.9 L302.41 1233.0 L302.77 1228.7 L303.13 1210.4 L303.48 1173.3 L303.84 1113.9 L304.19 1029.6 L304.55 917.9 L304.90 1024.6 L305.26 1105.1 L305.61 1161.8 L305.97 1197.3 L306.33 1214.8 L306.68 1218.9 L307.04 1215.0 L307.39 1198.7 L307.75 1165.5 L308.10 1112.5 L308.46 1037.2 L308.81 937.4 L309.17 1044.8 L309.52 1125.9 L309.88 1183.0 L310.24 1218.8 L310.59 1236.3 L310.95 1240.5 L311.30 1236.1 L311.66 1217.5 L312.01 1179.6 L312.37 1119.1 L312.72 1033.1 L313.08 919.3 L313.44 992.9 L313.79 1048.6 L314.15 1087.8 L314.50 1112.3 L314.86 1124.3 L315.21 1127.1 L315.57 1124.4 L315.92 1112.7 L316.28 1089.0 L316.63 1051.0 L316.99 997.1 L317.35 925.7 L317.70 1033.2 L318.06 1114.4 L318.41 1171.6 L318.77 1207.4 L319.12 1225.0 L319.48 1229.1 L319.83 1224.8 L320.19 1206.3 L320.55 1168.8 L320.90 1108.9 L321.26 1023.8 L321.61 911.1 L321.97 1023.6 L322.32 1108.6 L322.68 1168.4 L323.03 1205.9 L323.39 1224.3 L323.74 1228.6 L324.10 1224.4 L324.46 1206.4 L324.81 1169.8 L325.17 1111.3 L325.52 1028.3 L325.88 918.3 L326.23 1015.3 L326.59 1088.6 L326.94 1140.2 L327.30 1172.5 L327.66 1188.4 L328.01 1192.1 L328.37 1188.2 L328.72 1171.7 L329.08 1138.2 L329.43 1084.6 L329.79 1008.4 L330.14 907.6 L330.50 982.5 L330.86 1039.1 L331.21 1079.0 L331.57 1103.9 L331.92 1116.2 L332.28 1119.0 L332.63 1116.2 L332.99 1104.1 L333.34 1079.4 L333.70 1040.1 L334.05 984.2 L334.41 910.1 L334.77 966.6 L335.12 1009.3 L335.48 1039.3 L335.83 1058.1 L336.19 1067.4 L336.54 1069.5 L336.90 1067.1 L337.25 1057.0 L337.61 1036.4 L337.96 1003.4 L338.32 956.6 L338.68 894.5 L339.03 955.9 L339.39 1002.2 L339.74 1034.8 L340.10 1055.2 L340.45 1065.2 L340.81 1067.6 L341.16 1065.3 L341.52 1055.5 L341.88 1035.5 L342.23 1003.7 L342.59 958.4 L342.94 898.4 L343.30 958.2 L343.65 1003.3 L344.01 1035.1 L344.36 1055.0 L344.72 1064.8 L345.07 1067.1 L345.43 1064.7 L345.79 1054.3 L346.14 1033.4 L346.50 999.9 L346.85 952.3 L347.21 889.3 L347.56 952.3 L347.92 999.9 L348.27 1033.4 L348.63 1054.3 L348.99 1064.7 L349.34 1067.1 L349.70 1064.8 L350.05 1054.8 L350.41 1034.7 L350.76 1002.5 L351.12 956.7 L351.47 896.1 L351.83 949.5 L352.19 989.8 L352.54 1018.2 L352.90 1036.0 L353.25 1044.7 L353.61 1046.8 L353.96 1044.6 L354.32 1035.4 L354.67 1016.6 L355.03 986.7 L355.38 944.1 L355.74 887.7 L356.10 940.9 L356.45 981.1 L356.81 1009.4 L357.16 1027.1 L357.52 1035.8 L357.87 1037.9 L358.23 1036.0 L358.58 1027.9 L358.94 1011.4 L359.29 985.2 L359.65 947.9 L360.01 898.4 L360.36 953.7 L360.72 995.5 L361.07 1024.9 L361.43 1043.2 L361.78 1052.3 L362.14 1054.4 L362.49 1052.2 L362.85 1042.6 L363.21 1023.3 L363.56 992.3 L363.92 948.3 L364.27 890.1 L364.63 947.8 L364.98 991.4 L365.34 1022.1 L365.69 1041.3 L366.05 1050.7 L366.40 1053.0 L366.76 1050.9 L367.12 1042.2 L367.47 1024.6 L367.83 996.4 L368.18 956.3 L368.54 903.3 L368.89 951.6 L369.25 988.0 L369.60 1013.7 L369.96 1029.7 L370.32 1037.6 L370.67 1039.5 L371.03 1037.5 L371.38 1029.1 L371.74 1012.1 L372.09 984.9 L372.45 946.3 L372.80 895.1 L373.16 954.7 L373.51 999.8 L373.87 1031.5 L374.23 1051.3 L374.58 1061.1 L374.94 1063.3 L375.29 1061.2 L375.65 1052.1 L376.00 1033.5 L376.36 1003.8 L376.71 961.7 L377.07 905.8 L377.43 960.1 L377.78 1001.1 L378.14 1030.0 L378.49 1048.0 L378.85 1056.9 L379.20 1059.0 L379.56 1056.8 L379.91 1047.6 L380.27 1029.0 L380.62 999.3 L380.98 957.0 L381.34 901.0 L381.69 960.6 L382.05 1005.6 L382.40 1037.3 L382.76 1057.1 L383.11 1066.9 L383.47 1069.2 L383.82 1066.9 L384.18 1057.2 L384.54 1037.5 L384.89 1006.0 L385.25 961.2 L385.60 901.9 L385.96 981.5 L386.31 1041.5 L386.67 1083.8 L387.02 1110.3 L387.38 1123.3 L387.73 1126.3 L388.09 1123.3 L388.45 1110.5 L388.80 1084.4 L389.16 1042.8 L389.51 983.6 L389.87 905.3 L390.22 974.7 L390.58 1027.1 L390.93 1064.1 L391.29 1087.1 L391.65 1098.5 L392.00 1101.2 L392.36 1098.5 L392.71 1086.8 L393.07 1063.2 L393.42 1025.5 L393.78 971.9 L394.13 901.0 L394.49 964.4 L394.85 1012.4 L395.20 1046.1 L395.56 1067.2 L395.91 1077.6 L396.27 1080.1 L396.62 1077.7 L396.98 1067.7 L397.33 1047.3 L397.69 1014.7 L398.04 968.5 L398.40 907.2 L398.76 974.8 L399.11 1025.9 L399.47 1061.8 L399.82 1084.3 L400.18 1095.3 L400.53 1097.9 L400.89 1095.3 L401.24 1083.8 L401.60 1060.7 L401.95 1023.6 L402.31 971.0 L402.67 901.4 L403.02 994.5 L403.38 1064.8 L403.73 1114.4 L404.09 1145.3 L404.44 1160.6 L404.80 1164.2 L405.15 1160.7 L405.51 1145.9 L405.87 1115.7 L406.22 1067.6 L406.58 999.1 L406.93 908.6 L407.29 990.9 L407.64 1053.1 L408.00 1096.9 L408.35 1124.3 L408.71 1137.8 L409.06 1140.9 L409.42 1137.7 L409.78 1123.6 L410.13 1095.0 L410.49 1049.3 L410.84 984.4 L411.20 898.4 L411.55 962.5 L411.91 1010.9 L412.26 1045.0 L412.62 1066.3 L412.98 1076.8 L413.33 1079.3 L413.69 1076.9 L414.04 1066.6 L414.40 1045.7 L414.75 1012.4 L415.11 965.0 L415.46 902.3 L415.82 954.5 L416.18 993.9 L416.53 1021.7 L416.89 1039.0 L417.24 1047.5 L417.60 1049.5 L417.95 1047.4 L418.31 1038.2 L418.66 1019.4 L419.02 989.5 L419.37 947.0 L419.73 890.6 L420.09 945.1 L420.44 986.3 L420.80 1015.2 L421.15 1033.3 L421.51 1042.3 L421.86 1044.4 L422.22 1042.3 L422.57 1033.5 L422.93 1015.5 L423.28 986.9 L423.64 946.1 L424.00 892.2 L424.35 945.3 L424.71 985.3 L425.06 1013.6 L425.42 1031.2 L425.77 1039.9 L426.13 1041.9 L426.48 1039.8 L426.84 1030.7 L427.20 1012.3 L427.55 982.8 L427.91 940.9 L428.26 885.4 L428.62 932.5 L428.97 968.0 L429.33 993.1 L429.68 1008.7 L430.04 1016.4 L430.39 1018.2 L430.75 1016.5 L431.11 1008.8 L431.46 993.3 L431.82 968.6 L432.17 933.4 L432.53 886.8 L432.88 932.3 L433.24 966.7 L433.59 991.0 L433.95 1006.1 L434.31 1013.6 L434.66 1015.3 L435.02 1013.5 L435.37 1005.7 L435.73 989.9 L436.08 964.5 L436.44 928.5 L436.79 880.9 L437.15 930.6 L437.50 968.2 L437.86 994.6 L438.22 1011.1 L438.57 1019.3 L438.93 1021.2 L439.28 1019.3 L439.64 1011.3 L439.99 995.1 L440.35 969.1 L440.70 932.3 L441.06 883.4 L441.42 927.1 L441.77 960.0 L442.13 983.2 L442.48 997.7 L442.84 1004.9 L443.19 1006.6 L443.55 1004.8 L443.90 997.5 L444.26 982.6 L444.62 958.9 L444.97 925.1 L445.33 880.3 L445.68 923.0 L446.04 955.2 L446.39 977.9 L446.75 992.1 L447.10 999.1 L447.46 1000.7 L447.81 999.1 L448.17 992.4 L448.53 978.8 L448.88 957.1 L449.24 926.1 L449.59 885.2 L449.95 923.7 L450.30 952.8 L450.66 973.3 L451.01 986.1 L451.37 992.4 L451.72 993.9 L452.08 992.4 L452.44 985.9 L452.79 972.8 L453.15 951.8 L453.50 922.0 L453.86 882.5 L454.21 920.6 L454.57 949.4 L454.92 969.6 L455.28 982.3 L455.64 988.5 L455.99 990.0 L456.35 988.6 L456.70 982.5 L457.06 970.1 L457.41 950.4 L457.77 922.3 L458.12 885.2 L458.48 919.6 L458.84 945.5 L459.19 963.8 L459.55 975.3 L459.90 980.9 L460.26 982.2 L460.61 980.9 L460.97 975.1 L461.32 963.3 L461.68 944.5 L462.03 917.8 L462.39 882.5 L462.75 920.9 L463.10 950.0 L463.46 970.4 L463.81 983.2 L464.17 989.5 L464.52 991.0 L464.88 989.6 L465.23 983.5 L465.59 971.2 L465.94 951.4 L466.30 923.4 L466.66 886.4 L467.01 919.6 L467.37 944.8 L467.72 962.5 L468.08 973.5 L468.43 979.0 L468.79 980.3 L469.14 979.0 L469.50 973.6 L469.86 962.7 L470.21 945.3 L470.57 920.5 L470.92 887.7 L471.28 928.1 L471.63 958.6 L471.99 980.1 L472.34 993.5 L472.70 1000.1 L473.06 1001.7 L473.41 1000.3 L473.77 994.1 L474.12 981.7 L474.48 961.8 L474.83 933.5 L475.19 896.1 L475.54 935.6 L475.90 965.4 L476.25 986.4 L476.61 999.6 L476.97 1006.0 L477.32 1007.5 L477.68 1006.1 L478.03 999.8 L478.39 987.1 L478.74 966.8 L479.10 938.0 L479.45 899.8 L479.81 942.1 L480.16 974.1 L480.52 996.6 L480.88 1010.7 L481.23 1017.6 L481.59 1019.2 L481.94 1017.6 L482.30 1010.8 L482.65 997.0 L483.01 974.9 L483.36 943.5 L483.72 901.9 L484.08 936.6 L484.43 962.8 L484.79 981.2 L485.14 992.7 L485.50 998.4 L485.85 999.7 L486.21 998.4 L486.56 992.4 L486.92 980.4 L487.27 961.2 L487.63 934.0 L487.99 897.9 L488.34 937.3 L488.70 967.0 L489.05 988.0 L489.41 1001.1 L489.76 1007.5 L490.12 1009.0 L490.47 1007.4 L490.83 1000.5 L491.19 986.4 L491.54 964.0 L491.90 932.1 L492.25 889.8 L492.61 929.0 L492.96 958.5 L493.32 979.3 L493.67 992.4 L494.03 998.8 L494.38 1000.3 L494.74 998.8 L495.10 992.8 L495.45 980.5 L495.81 960.9 L496.16 933.0 L496.52 896.0 L496.87 942.1 L497.23 976.9 L497.58 1001.4 L497.94 1016.7 L498.30 1024.2 L498.65 1026.0 L499.01 1024.2 L499.36 1016.4 L499.72 1000.6 L500.07 975.4 L500.43 939.6 L500.78 892.1 L501.14 928.7 L501.50 956.4 L501.85 975.8 L502.21 988.0 L502.56 994.0 L502.92 995.4 L503.27 994.1 L503.63 988.5 L503.98 977.2 L504.34 959.2 L504.69 933.5 L505.05 899.5 L505.41 938.8 L505.76 968.5 L506.12 989.4 L506.47 1002.5 L506.83 1008.9 L507.18 1010.4 L507.54 1008.7 L507.89 1001.7 L508.25 987.3 L508.61 964.4 L508.96 931.8 L509.32 888.6 L509.67 934.1 L510.03 968.4 L510.38 992.5 L510.74 1007.6 L511.09 1015.1 L511.45 1016.8 L511.80 1015.2 L512.16 1008.1 L512.52 993.9 L512.87 971.0 L513.23 938.6 L513.58 895.6 L513.94 946.3 L514.29 984.6 L514.65 1011.5 L515.00 1028.4 L515.36 1036.7 L515.72 1038.6 L516.07 1036.6 L516.43 1028.0 L516.78 1010.6 L517.14 982.8 L517.49 943.2 L517.85 890.8 L518.20 936.3 L518.56 970.6 L518.91 994.8 L519.27 1010.0 L519.63 1017.4 L519.98 1019.2 L520.34 1017.6 L520.69 1010.7 L521.05 996.9 L521.40 974.7 L521.76 943.2 L522.11 901.5 L522.47 951.0 L522.83 988.4 L523.18 1014.7 L523.54 1031.2 L523.89 1039.3 L524.25 1041.2 L524.60 1039.2 L524.96 1030.6 L525.31 1013.1 L525.67 985.2 L526.02 945.6 L526.38 893.1 L526.74 946.1 L527.09 986.1 L527.45 1014.2 L527.80 1031.8 L528.16 1040.5 L528.51 1042.5 L528.87 1040.6 L529.22 1032.3 L529.58 1015.3 L529.93 988.3 L530.29 949.8 L530.65 899.0 L531.00 946.5 L531.36 982.3 L531.71 1007.6 L532.07 1023.4 L532.42 1031.2 L532.78 1033.0 L533.13 1031.0 L533.49 1022.7 L533.85 1005.6 L534.20 978.4 L534.56 939.8 L534.91 888.6 L535.27 932.8 L535.62 966.2 L535.98 989.7 L536.33 1004.4 L536.69 1011.6 L537.05 1013.3 L537.40 1011.7 L537.76 1004.7 L538.11 990.6 L538.47 968.1 L538.82 936.1 L539.18 893.7 L539.53 937.0 L539.89 969.7 L540.24 992.7 L540.60 1007.1 L540.96 1014.2 L541.31 1015.8 L541.67 1014.1 L542.02 1006.6 L542.38 991.4 L542.73 967.0 L543.09 932.5 L543.44 886.7 L543.80 926.4 L544.15 956.4 L544.51 977.5 L544.87 990.7 L545.22 997.2 L545.58 998.7 L545.93 997.3 L546.29 991.1 L546.64 978.5 L547.00 958.4 L547.35 929.9 L547.71 892.1 L548.07 937.8 L548.42 972.4 L548.78 996.7 L549.13 1011.9 L549.49 1019.4 L549.84 1021.1 L550.20 1019.3 L550.55 1011.5 L550.91 995.6 L551.26 970.3 L551.62 934.3 L551.98 886.7 L552.33 928.7 L552.69 960.4 L553.04 982.7 L553.40 996.6 L553.75 1003.5 L554.11 1005.1 L554.46 1003.6 L554.82 997.1 L555.18 984.0 L555.53 962.9 L555.89 933.1 L556.24 893.5 L556.60 936.5 L556.95 969.0 L557.31 991.9 L557.66 1006.2 L558.02 1013.2 L558.38 1014.9 L558.73 1013.1 L559.09 1005.6 L559.44 990.4 L559.80 966.1 L560.15 931.6 L560.51 885.9 L560.86 922.3 L561.22 949.8 L561.57 969.1 L561.93 981.2 L562.29 987.2 L562.64 988.6 L563.00 987.2 L563.35 981.3 L563.71 969.4 L564.06 950.3 L564.42 923.2 L564.77 887.3 L565.13 923.2 L565.49 950.3 L565.84 969.4 L566.20 981.3 L566.55 987.2 L566.91 988.6 L567.26 987.1 L567.62 980.8 L567.97 967.9 L568.33 947.3 L568.68 918.1 L569.04 879.5 L569.40 918.0 L569.75 947.1 L570.11 967.6 L570.46 980.4 L570.82 986.7 L571.17 988.2 L571.53 986.8 L571.88 980.7 L572.24 968.4 L572.60 948.7 L572.95 920.8 L573.31 883.8 L573.66 918.7 L574.02 945.1 L574.37 963.7 L574.73 975.3 L575.08 981.0 L575.44 982.3 L575.79 980.9 L576.15 974.9 L576.51 962.6 L576.86 943.0 L577.22 915.1 L577.57 878.1 L577.93 911.3 L578.28 936.3 L578.64 953.9 L578.99 964.9 L579.35 970.4 L579.71 971.6 L580.06 970.4 L580.42 965.2 L580.77 954.6 L581.13 937.7 L581.48 913.6 L581.84 881.8 L582.19 919.9 L582.55 948.6 L582.90 968.8 L583.26 981.5 L583.62 987.7 L583.97 989.2 L584.33 987.7 L584.68 981.3 L585.04 968.5 L585.39 947.9 L585.75 918.6 L586.10 879.9 L586.46 913.6 L586.82 939.0 L587.17 956.9 L587.53 968.1 L587.88 973.6 L588.24 974.9 L588.59 973.7 L588.95 968.3 L589.30 957.4 L589.66 940.0 L590.01 915.2 L590.37 882.4 L590.73 922.0 L591.08 951.8 L591.44 972.9 L591.79 986.0 L592.15 992.5 L592.50 994.0 L592.86 992.5 L593.21 986.0 L593.57 972.8 L593.92 951.7 L594.28 921.7 L594.64 882.0 L594.99 921.0 L595.35 950.4 L595.70 971.1 L596.06 984.0 L596.41 990.4 L596.77 991.9 L597.12 990.5 L597.48 984.3 L597.84 971.9 L598.19 952.0 L598.55 923.7 L598.90 886.3 L599.26 922.3 L599.61 949.6 L599.97 968.7 L600.32 980.7 L600.68 986.6 L601.04 988.0 L601.39 986.6 L601.75 980.5 L602.10 968.2 L602.46 948.5 L602.81 920.5 L603.17 883.4 L603.52 915.1 L603.88 939.1 L604.23 956.0 L604.59 966.6 L604.95 971.8 L605.30 973.0 L605.66 971.8 L606.01 966.7 L606.37 956.3 L606.72 939.6 L607.08 916.0 L607.43 884.7 L607.79 920.8 L608.14 948.1 L608.50 967.3 L608.86 979.3 L609.21 985.2 L609.57 986.6 L609.92 985.3 L610.28 979.5 L610.63 967.7 L610.99 948.9 L611.34 922.1 L611.70 886.7 L612.06 924.2 L612.41 952.5 L612.77 972.4 L613.12 984.9 L613.48 991.0 L613.83 992.5 L614.19 991.0 L614.54 984.9 L614.90 972.4 L615.25 952.5 L615.61 924.2 L615.97 886.7 L616.32 918.0 L616.68 941.6 L617.03 958.2 L617.39 968.6 L617.74 973.7 L618.10 974.9 L618.45 973.7 L618.81 968.6 L619.17 958.2 L619.52 941.6 L619.88 918.0 L620.23 886.7 L620.59 920.0 L620.94 945.2 L621.30 963.0 L621.65 974.0 L622.01 979.5 L622.37 980.8 L622.72 979.4 L623.08 973.8 L623.43 962.2 L623.79 943.7 L624.14 917.5 L624.50 882.8 L624.85 925.1 L625.21 957.1 L625.56 979.6 L625.92 993.7 L626.28 1000.6 L626.63 1002.2 L626.99 1000.7 L627.34 994.2 L627.70 981.1 L628.05 960.1 L628.41 930.3 L628.76 890.8 L629.12 936.5 L629.48 971.0 L629.83 995.3 L630.19 1010.5 L630.54 1018.0 L630.90 1019.7 L631.25 1018.0 L631.61 1010.4 L631.96 994.9 L632.32 970.2 L632.67 935.1 L633.03 888.6 L633.39 952.2 L633.74 1000.3 L634.10 1034.1 L634.45 1055.2 L634.81 1065.6 L635.16 1068.1 L635.52 1065.8 L635.87 1055.9 L636.23 1035.9 L636.59 1003.9 L636.94 958.5 L637.30 898.4 L637.65 943.7 L638.01 977.9 L638.36 1002.0 L638.72 1017.0 L639.07 1024.4 L639.43 1026.2 L639.78 1024.3 L640.14 1016.4 L640.50 1000.2 L640.85 974.4 L641.21 937.8 L641.56 889.2 L641.92 940.7 L642.27 979.5 L642.63 1006.9 L642.98 1024.0 L643.34 1032.4 L643.70 1034.4 L644.05 1032.5 L644.41 1024.4 L644.76 1008.0 L645.12 981.7 L645.47 944.4 L645.83 895.1 L646.18 939.2 L646.54 972.6 L646.89 996.1 L647.25 1010.8 L647.61 1018.0 L647.96 1019.7 L648.32 1017.9 L648.67 1009.9 L649.03 993.8 L649.38 968.1 L649.74 931.5 L650.09 883.0 L650.45 931.9 L650.81 968.9 L651.16 994.9 L651.52 1011.2 L651.87 1019.2 L652.23 1021.1 L652.58 1019.3 L652.94 1011.6 L653.29 996.0 L653.65 971.0 L654.00 935.6 L654.36 888.6 L654.72 927.9 L655.07 957.5 L655.43 978.3 L655.78 991.4 L656.14 997.8 L656.49 999.3 L656.85 997.7 L657.20 990.8 L657.56 976.8 L657.91 954.4 L658.27 922.6 L658.63 880.5 L658.98 921.3 L659.34 952.2 L659.69 973.9 L660.05 987.5 L660.40 994.2 L660.76 995.8 L661.11 994.3 L661.47 987.8 L661.83 974.6 L662.18 953.4 L662.54 923.5 L662.89 883.8 L663.25 918.1 L663.60 944.1 L663.96 962.4 L664.31 973.8 L664.67 979.5 L665.03 980.8 L665.38 979.4 L665.74 973.7 L666.09 962.0 L666.45 943.2 L666.80 916.6 L667.16 881.4 L667.51 919.6 L667.87 948.4 L668.22 968.7 L668.58 981.4 L668.94 987.7 L669.29 989.2 L669.65 987.8 L670.00 981.8 L670.36 969.6 L670.71 950.1 L671.07 922.5 L671.42 885.9 L671.78 918.5 L672.13 943.1 L672.49 960.4 L672.85 971.3 L673.20 976.6 L673.56 977.9 L673.91 976.5 L674.27 971.0 L674.62 959.6 L674.98 941.4 L675.33 915.6 L675.69 881.4 L676.05 914.1 L676.40 938.8 L676.76 956.1 L677.11 967.0 L677.47 972.3 L677.82 973.6 L678.18 972.4 L678.53 967.2 L678.89 956.7 L679.25 940.0 L679.60 916.2 L679.96 884.7 L680.31 913.3 L680.67 934.8 L681.02 950.0 L681.38 959.4 L681.73 964.1 L682.09 965.2 L682.44 964.0 L682.80 959.1 L683.16 949.1 L683.51 933.0 L683.87 910.2 L684.22 880.1 L684.58 908.6 L684.93 930.2 L685.29 945.4 L685.64 954.9 L686.00 959.6 L686.36 960.7 L686.71 959.7 L687.07 955.1 L687.42 945.9 L687.78 931.1 L688.13 910.2 L688.49 882.4 L688.84 915.5 L689.20 940.6 L689.55 958.2 L689.91 969.2 L690.27 974.6 L690.62 975.9 L690.98 974.7 L691.33 969.3 L691.69 958.5 L692.04 941.2 L692.40 916.5 L692.75 884.0 L693.11 916.7 L693.47 941.4 L693.82 958.8 L694.18 969.7 L694.53 975.0 L694.89 976.3 L695.24 975.1 L695.60 969.9 L695.95 959.4 L696.31 942.7 L696.66 918.8 L697.02 887.3 L697.38 919.4 L697.73 943.6 L698.09 960.7 L698.44 971.4 L698.80 976.6 L699.15 977.9 L699.51 976.6 L699.86 971.5 L700.22 961.0 L700.58 944.1 L700.93 920.3 L701.29 888.6 L701.64 918.9 L702.00 941.7 L702.35 957.8 L702.71 967.9 L703.06 972.8 L703.42 974.0 L703.77 972.8 L704.13 967.9 L704.49 957.9 L704.84 941.9 L705.20 919.3 L705.55 889.2 L705.91 917.9 L706.26 939.5 L706.62 954.7 L706.97 964.3 L707.33 969.0 L707.69 970.1 L708.04 969.0 L708.40 964.3 L708.75 954.9 L709.11 939.7 L709.46 918.2 L709.82 889.8 L710.17 915.3 L710.53 934.6 L710.88 948.2 L711.24 956.7 L711.60 960.9 L711.95 961.9 L712.31 960.9 L712.66 956.7 L713.02 948.2 L713.37 934.6 L713.73 915.3 L714.08 889.8 L714.44 918.7 L714.80 940.6 L715.15 956.0 L715.51 965.6 L715.86 970.3 L716.22 971.4 L716.57 970.3 L716.93 965.6 L717.28 956.0 L717.64 940.6 L717.99 918.7 L718.35 889.8 L718.71 912.9 L719.06 930.3 L719.42 942.5 L719.77 950.2 L720.13 954.0 L720.48 954.9 L720.84 953.9 L721.19 949.9 L721.55 941.6 L721.90 928.4 L722.26 909.7 L722.62 884.9 L722.97 910.8 L723.33 930.4 L723.68 944.1 L724.04 952.8 L724.39 957.0 L724.75 958.0 L725.10 957.0 L725.46 952.9 L725.82 944.5 L726.17 931.0 L726.53 912.0 L726.88 886.7 L727.24 915.7 L727.59 937.6 L727.95 953.0 L728.30 962.6 L728.66 967.4 L729.02 968.5 L729.37 967.4 L729.73 962.5 L730.08 952.6 L730.44 936.7 L730.79 914.2 L731.15 884.4 L731.50 914.2 L731.86 936.7 L732.21 952.6 L732.57 962.5 L732.93 967.4 L733.28 968.5 L733.64 967.5 L733.99 963.1 L734.35 954.1 L734.70 939.9 L735.06 919.6 L735.41 892.7 L735.77 923.4 L736.12 946.7 L736.48 963.0 L736.84 973.2 L737.19 978.2 L737.55 979.4 L737.90 978.1 L738.26 972.6 L738.61 961.3 L738.97 943.3 L739.32 917.8 L739.68 884.0 L740.04 915.5 L740.39 939.3 L740.75 956.1 L741.10 966.6 L741.46 971.8 L741.81 973.0 L742.17 972.1 L742.52 968.2 L742.88 960.4 L743.24 948.0 L743.59 930.2 L743.95 906.8 L744.30 937.6 L744.66 960.9 L745.01 977.3 L745.37 987.6 L745.72 992.6 L746.08 993.8 L746.43 992.4 L746.79 986.2 L747.15 973.5 L747.50 953.3 L747.86 924.7 L748.21 886.7 L748.57 925.2 L748.92 954.3 L749.28 974.8 L749.63 987.6 L749.99 993.9 L750.35 995.4 L750.70 994.2 L751.06 988.9 L751.41 978.3 L751.77 961.4 L752.12 937.3 L752.48 905.4 L752.83 947.8 L753.19 979.9 L753.54 1002.5 L753.90 1016.6 L754.26 1023.6 L754.61 1025.2 L754.97 1023.3 L755.32 1015.2 L755.68 998.6 L756.03 972.2 L756.39 934.6 L756.74 884.9 L757.10 921.3 L757.46 948.8 L757.81 968.1 L758.17 980.2 L758.52 986.2 L758.88 987.6 L759.23 986.3 L759.59 980.9 L759.94 969.8 L760.30 952.0 L760.65 926.9 L761.01 893.5 L761.37 925.1 L761.72 949.0 L762.08 965.8 L762.43 976.3 L762.79 981.5 L763.14 982.7 L763.50 981.3 L763.85 975.3 L764.21 963.1 L764.57 943.5 L764.92 915.7 L765.28 878.9 L765.63 919.8 L765.99 950.8 L766.34 972.5 L766.70 986.1 L767.05 992.8 L767.41 994.4 L767.76 993.0 L768.12 986.8 L768.48 974.2 L768.83 954.1 L769.19 925.6 L769.54 887.9 L769.90 925.3 L770.25 953.5 L770.61 973.4 L770.96 985.9 L771.32 992.0 L771.68 993.4 L772.03 991.9 L772.39 985.3 L772.74 971.8 L773.10 950.2 L773.45 919.6 L773.81 879.1 L774.16 915.8 L774.52 943.6 L774.87 963.1 L775.23 975.3 L775.59 981.3 L775.94 982.7 L776.30 981.4 L776.65 975.8 L777.01 964.4 L777.36 946.1 L777.72 920.2 L778.07 885.9 L778.43 919.9 L778.79 945.5 L779.14 963.6 L779.50 974.9 L779.85 980.5 L780.21 981.8 L780.56 980.3 L780.92 974.3 L781.27 962.0 L781.63 942.4 L781.98 914.5 L782.34 877.5 L782.70 909.2 L783.05 933.0 L783.41 949.8 L783.76 960.4 L784.12 965.5 L784.47 966.8 L784.83 965.6 L785.18 960.7 L785.54 950.7 L785.89 934.7 L786.25 911.9 L786.61 881.8 L786.96 910.0 L787.32 931.3 L787.67 946.2 L788.03 955.6 L788.38 960.2 L788.74 961.3 L789.09 960.1 L789.45 955.1 L789.81 944.9 L790.16 928.7 L790.52 905.6 L790.87 875.0 L791.23 901.6 L791.58 921.8 L791.94 935.9 L792.29 944.8 L792.65 949.2 L793.01 950.2 L793.36 949.2 L793.72 945.0 L794.07 936.4 L794.43 922.7 L794.78 903.3 L795.14 877.5 L795.49 908.9 L795.85 932.7 L796.20 949.4 L796.56 959.8 L796.92 965.0 L797.27 966.2 L797.63 964.9 L797.98 959.5 L798.34 948.6 L798.69 931.2 L799.05 906.4 L799.40 873.6 L799.76 906.1 L800.12 930.6 L800.47 947.8 L800.83 958.6 L801.18 964.0 L801.54 965.2 L801.89 964.0 L802.25 959.1 L802.60 949.0 L802.96 932.8 L803.31 909.9 L803.67 879.5 L804.03 909.2 L804.38 931.6 L804.74 947.4 L805.09 957.2 L805.45 962.1 L805.80 963.2 L806.16 962.1 L806.51 957.0 L806.87 946.7 L807.23 930.3 L807.58 907.0 L807.94 876.2 L808.29 905.4 L808.65 927.6 L809.00 943.1 L809.36 952.9 L809.71 957.6 L810.07 958.8 L810.42 957.7 L810.78 953.2 L811.14 943.9 L811.49 929.2 L811.85 908.2 L812.20 880.5 L812.56 906.1 L812.91 925.5 L813.27 939.2 L813.62 947.7 L813.98 951.9 L814.34 952.9 L814.69 951.9 L815.05 947.7 L815.40 939.0 L815.76 925.2 L816.11 905.5 L816.47 879.5 L816.82 907.3 L817.18 928.3 L817.53 943.1 L817.89 952.4 L818.25 956.9 L818.60 958.0" fill="none" stroke="#4876FF" stroke-width="2.70" stroke-linejoin="round"/>
<path d="M914.7 901.8 L918.2 900.0 L921.2 896.9 L923.5 903.3 L926.0 905.8 L929.0 904.3 L932.5 910.7 L935.8 908.8 L938.7 905.8 L941.0 910.1 L944.5 906.2 L947.5 902.3 L949.8 906.8 L952.7 904.3 L955.6 901.8 L958.6 906.6 L962.1 902.7 L966.0 897.5 L969.9 892.6 L972.2 889.7 L974.4 890.1 L975.7 906.2 L978.1 907.2 L980.6 903.7 L982.9 905.3 L985.1 910.1 L987.4 907.2 L989.7 903.3 L991.7 903.9 L993.8 907.8 L996.2 907.6 L998.5 909.2 L1000.5 910.5 L1001.6 930.6 L1004.9 933.1 L1007.5 935.5 L1010.2 938.0 L1013.7 929.2 L1016.6 927.1 L1018.6 938.4 L1021.9 935.5 L1023.1 925.1 L1027.3 905.6 L1029.9 903.3 L1033.2 901.4 L1036.7 901.0 L1040.4 909.5 L1044.9 897.9 L1047.8 895.9 L1050.1 894.5 L1053.2 890.6 L1055.2 892.2 L1057.5 896.9 L1060.5 894.2 L1063.4 892.2 L1066.3 894.9 L1068.8 893.0 L1071.2 889.7 L1074.1 886.8 L1078.0 880.9 L1081.9 878.4 L1086.8 876.0 L1092.6 874.7 L1098.4 872.3 L1104.3 871.2 L1110.1 870.6 L1116.0 870.8 L1121.8 871.2 L1127.7 872.1 L1133.5 872.7 L1139.4 873.9 L1145.2 875.1 L1149.1 876.4 L1153.0 877.0 L1156.5 878.6 L1159.8 877.4 L1163.7 879.9 L1166.6 879.4 L1169.5 877.6 L1172.5 879.4 L1177.3 878.0 L1180.6 879.0 L1184.2 877.6 L1190.0 877.4 L1195.8 876.2 L1201.7 875.3 L1207.5 875.3 L1213.4 874.3 L1219.2 873.5 L1225.1 872.5 L1230.9 871.9 L1235.8 869.8 L1240.6 867.3 L1245.5 866.3 L1244.9 866.1 L1250.7 865.7 L1259.5 866.7 L1269.2 867.3 L1279.0 867.7 L1288.7 868.6 L1296.5 868.4 L1302.3 867.7 L1310.1 868.1 L1316.0 868.8 L1323.8 868.6 L1333.5 868.4 L1341.3 866.9 L1349.1 865.5 L1356.9 864.9 L1366.6 864.9 L1376.4 865.5 L1384.2 866.1 L1389.0 867.3 L1393.9 872.1 L1397.8 874.7 L1401.7 875.5 L1404.6 879.0 L1407.5 881.3 L1411.4 885.8 L1416.3 886.8 L1420.2 891.0 L1423.1 890.1 L1427.0 890.3 L1428.6 894.0 L1431.9 892.6 L1434.8 891.6 L1438.3 893.2 L1442.6 887.7 L1446.5 887.1 L1451.4 886.0 L1455.3 885.4 L1459.2 881.9 L1464.0 877.6 L1469.9 875.6 L1473.8 877.0 L1479.6 874.7 L1485.5 872.7 L1491.3 871.8 L1497.1 870.6 L1503.0 871.6 L1508.8 872.5 L1512.7 872.1 L1515.6 869.8 L1519.5 870.8 L1523.4 870.2 L1527.3 871.8 L1531.2 871.2 L1536.1 874.1 L1541.0 873.9 L1544.9 875.5 L1549.7 874.5 L1553.6 875.5 L1558.5 874.1 L1562.4 874.3 L1565.7 873.7" fill="none" stroke="#FF8C00" stroke-width="2.70" stroke-linejoin="round" stroke-linecap="butt" />
<text x="160.00" y="1477.3" font-size="44px" text-anchor="start" dx="0 2">C)</text>
<path d="M151.55 1566.70 L151.55 2026.30 L867.70 2026.30" fill="none" stroke="#000" stroke-width="2.60" stroke-linejoin="round"/>
<line x1="882.7" y1="2026.3" x2="1598.7" y2="2026.3" stroke="#000" stroke-width="2.60" stroke-linecap="butt"/>
<line x1="144.2" y1="1675.1" x2="150.6" y2="1675.1" stroke="#222" stroke-width="2.60" stroke-linecap="butt"/>
<text x="138.00" y="1690.5" font-size="44.4px" text-anchor="end" >9</text>
<line x1="144.2" y1="1785.6" x2="150.6" y2="1785.6" stroke="#222" stroke-width="2.60" stroke-linecap="butt"/>
<text x="138.00" y="1801.0" font-size="44.4px" text-anchor="end" >6</text>
<line x1="144.2" y1="1896.1" x2="150.6" y2="1896.1" stroke="#222" stroke-width="2.60" stroke-linecap="butt"/>
<text x="138.00" y="1911.5" font-size="44.4px" text-anchor="end" >3</text>
<line x1="144.2" y1="2006.6" x2="150.6" y2="2006.6" stroke="#222" stroke-width="2.60" stroke-linecap="butt"/>
<text x="138.00" y="2022.0" font-size="44.4px" text-anchor="end" >0</text>
<line x1="277.1" y1="2027.3" x2="277.1" y2="2034.0" stroke="#222" stroke-width="2.60" stroke-linecap="butt"/>
<text x="277.10" y="2071.0" font-size="44.4px" text-anchor="middle" >22-06</text>
<line x1="404.0" y1="2027.3" x2="404.0" y2="2034.0" stroke="#222" stroke-width="2.60" stroke-linecap="butt"/>
<text x="404.00" y="2071.0" font-size="44.4px" text-anchor="middle" >07-07</text>
<line x1="530.9" y1="2027.3" x2="530.9" y2="2034.0" stroke="#222" stroke-width="2.60" stroke-linecap="butt"/>
<text x="530.90" y="2071.0" font-size="44.4px" text-anchor="middle" >22-07</text>
<line x1="657.8" y1="2027.3" x2="657.8" y2="2034.0" stroke="#222" stroke-width="2.60" stroke-linecap="butt"/>
<text x="657.80" y="2071.0" font-size="44.4px" text-anchor="middle" >06-08</text>
<line x1="784.7" y1="2027.3" x2="784.7" y2="2034.0" stroke="#222" stroke-width="2.60" stroke-linecap="butt"/>
<text x="727.93" y="2071.0" font-size="44.4px" text-anchor="start" dx="0 2.2 -2.2 0 0" class="one" >21-08</text>
<line x1="1007.6" y1="2027.3" x2="1007.6" y2="2034.0" stroke="#222" stroke-width="2.60" stroke-linecap="butt"/>
<text x="1007.60" y="2071.0" font-size="44.4px" text-anchor="middle" >22-06</text>
<line x1="1134.6" y1="2027.3" x2="1134.6" y2="2034.0" stroke="#222" stroke-width="2.60" stroke-linecap="butt"/>
<text x="1134.60" y="2071.0" font-size="44.4px" text-anchor="middle" >07-07</text>
<line x1="1261.6" y1="2027.3" x2="1261.6" y2="2034.0" stroke="#222" stroke-width="2.60" stroke-linecap="butt"/>
<text x="1261.60" y="2071.0" font-size="44.4px" text-anchor="middle" >22-07</text>
<line x1="1388.6" y1="2027.3" x2="1388.6" y2="2034.0" stroke="#222" stroke-width="2.60" stroke-linecap="butt"/>
<text x="1388.60" y="2071.0" font-size="44.4px" text-anchor="middle" >06-08</text>
<line x1="1515.6" y1="2027.3" x2="1515.6" y2="2034.0" stroke="#222" stroke-width="2.60" stroke-linecap="butt"/>
<text x="1458.83" y="2071.0" font-size="44.4px" text-anchor="start" dx="0 2.2 -2.2 0 0" class="one" >21-08</text>
<text x="35.60" y="1796.5" font-size="44px" text-anchor="middle" transform="rotate(-90 35.6 1796.5)" >Concentration (µmol·L -¹)</text>
<circle cx="183.9" cy="1587.7" r="6.0" fill="#7CAE00"/>
<circle cx="243.2" cy="1587.2" r="6.0" fill="#7CAE00"/>
<circle cx="302.4" cy="1852.0" r="6.0" fill="#7CAE00"/>
<circle cx="420.8" cy="1718.9" r="6.0" fill="#7CAE00"/>
<circle cx="480.3" cy="1777.9" r="6.0" fill="#7CAE00"/>
<circle cx="539.2" cy="1850.8" r="6.0" fill="#7CAE00"/>
<circle cx="657.2" cy="1967.3" r="6.0" fill="#7CAE00"/>
<circle cx="716.7" cy="1717.7" r="6.0" fill="#7CAE00"/>
<circle cx="776.1" cy="1775.9" r="6.0" fill="#7CAE00"/>
<circle cx="835.1" cy="1907.8" r="6.0" fill="#7CAE00"/>
<circle cx="183.9" cy="1969.2" r="6.0" fill="#F8766D"/>
<circle cx="243.2" cy="1906.2" r="6.0" fill="#F8766D"/>
<circle cx="302.4" cy="1939.1" r="6.0" fill="#F8766D"/>
<circle cx="420.8" cy="1925.9" r="6.0" fill="#F8766D"/>
<circle cx="480.3" cy="1956.5" r="6.0" fill="#F8766D"/>
<circle cx="539.2" cy="1939.1" r="6.0" fill="#F8766D"/>
<circle cx="657.2" cy="1965.9" r="6.0" fill="#F8766D"/>
<circle cx="716.7" cy="1942.7" r="6.0" fill="#F8766D"/>
<circle cx="776.1" cy="1919.4" r="6.0" fill="#F8766D"/>
<circle cx="835.1" cy="1945.9" r="6.0" fill="#F8766D"/>
<circle cx="183.9" cy="1986.1" r="6.0" fill="#C77CFF"/>
<circle cx="243.2" cy="2002.4" r="6.0" fill="#C77CFF"/>
<circle cx="302.4" cy="1997.6" r="6.0" fill="#C77CFF"/>
<circle cx="420.8" cy="1992.6" r="6.0" fill="#C77CFF"/>
<circle cx="480.3" cy="2001.0" r="6.0" fill="#C77CFF"/>
<circle cx="539.2" cy="1992.6" r="6.0" fill="#C77CFF"/>
<circle cx="657.2" cy="1995.7" r="6.0" fill="#C77CFF"/>
<circle cx="716.7" cy="1994.5" r="6.0" fill="#C77CFF"/>
<circle cx="776.1" cy="1980.8" r="6.0" fill="#C77CFF"/>
<circle cx="835.1" cy="1996.9" r="6.0" fill="#C77CFF"/>
<circle cx="183.9" cy="1990.4" r="6.0" fill="#00BFC4"/>
<circle cx="243.2" cy="1995.7" r="6.0" fill="#00BFC4"/>
<circle cx="302.4" cy="1998.1" r="6.0" fill="#00BFC4"/>
<circle cx="420.8" cy="1998.8" r="6.0" fill="#00BFC4"/>
<circle cx="480.3" cy="1995.7" r="6.0" fill="#00BFC4"/>
<circle cx="539.2" cy="1996.4" r="6.0" fill="#00BFC4"/>
<circle cx="657.2" cy="2004.9" r="6.0" fill="#00BFC4"/>
<circle cx="716.7" cy="1996.4" r="6.0" fill="#00BFC4"/>
<circle cx="776.1" cy="1994.0" r="6.0" fill="#00BFC4"/>
<circle cx="835.1" cy="2000.0" r="6.0" fill="#00BFC4"/>
<path d="M183.9 1969.2 L243.2 1906.2 L302.4 1939.1 L420.8 1925.9 L480.3 1956.5 L539.2 1939.1 L657.2 1965.9 L716.7 1942.7 L776.1 1919.4 L835.1 1945.9" fill="none" stroke="#F8766D" stroke-width="2.70" stroke-linejoin="round" stroke-linecap="butt" />
<path d="M183.9 1587.7 L243.2 1587.2 L302.4 1852.0 L420.8 1718.9 L480.3 1777.9 L539.2 1850.8 L657.2 1967.3 L716.7 1717.7 L776.1 1775.9 L835.1 1907.8" fill="none" stroke="#7CAE00" stroke-width="2.70" stroke-linejoin="round" stroke-linecap="butt" />
<path d="M183.9 1990.4 L243.2 1995.7 L302.4 1998.1 L420.8 1998.8 L480.3 1995.7 L539.2 1996.4 L657.2 2004.9 L716.7 1996.4 L776.1 1994.0 L835.1 2000.0" fill="none" stroke="#00BFC4" stroke-width="2.70" stroke-linejoin="round" stroke-linecap="butt" />
<path d="M183.9 1986.1 L243.2 2002.4 L302.4 1997.6 L420.8 1992.6 L480.3 2001.0 L539.2 1992.6 L657.2 1995.7 L716.7 1994.5 L776.1 1980.8 L835.1 1996.9" fill="none" stroke="#C77CFF" stroke-width="2.70" stroke-linejoin="round" stroke-linecap="butt" />
<circle cx="915.1" cy="1931.9" r="6.0" fill="#7CAE00"/>
<circle cx="974.5" cy="1996.8" r="6.0" fill="#7CAE00"/>
<circle cx="1033.5" cy="1995.8" r="6.0" fill="#7CAE00"/>
<circle cx="1092.7" cy="1912.4" r="6.0" fill="#7CAE00"/>
<circle cx="1151.8" cy="1995.8" r="6.0" fill="#7CAE00"/>
<circle cx="1211.2" cy="1995.8" r="6.0" fill="#7CAE00"/>
<circle cx="1270.3" cy="1995.4" r="6.0" fill="#7CAE00"/>
<circle cx="1329.4" cy="1995.4" r="6.0" fill="#7CAE00"/>
<circle cx="1388.6" cy="1995.4" r="6.0" fill="#7CAE00"/>
<circle cx="1447.8" cy="1995.4" r="6.0" fill="#7CAE00"/>
<circle cx="1507.0" cy="1911.6" r="6.0" fill="#7CAE00"/>
<circle cx="1566.5" cy="1980.8" r="6.0" fill="#7CAE00"/>
<circle cx="915.1" cy="1892.9" r="6.0" fill="#F8766D"/>
<circle cx="974.5" cy="1988.6" r="6.0" fill="#F8766D"/>
<circle cx="1033.5" cy="1979.6" r="6.0" fill="#F8766D"/>
<circle cx="1092.7" cy="1971.8" r="6.0" fill="#F8766D"/>
<circle cx="1151.8" cy="1980.6" r="6.0" fill="#F8766D"/>
<circle cx="1211.2" cy="1980.6" r="6.0" fill="#F8766D"/>
<circle cx="1270.3" cy="1964.0" r="6.0" fill="#F8766D"/>
<circle cx="1329.4" cy="1964.0" r="6.0" fill="#F8766D"/>
<circle cx="1388.6" cy="1951.0" r="6.0" fill="#F8766D"/>
<circle cx="1447.8" cy="1980.6" r="6.0" fill="#F8766D"/>
<circle cx="1507.0" cy="1951.0" r="6.0" fill="#F8766D"/>
<circle cx="1566.5" cy="1971.4" r="6.0" fill="#F8766D"/>
<circle cx="915.1" cy="1983.7" r="6.0" fill="#C77CFF"/>
<circle cx="974.5" cy="2001.6" r="6.0" fill="#C77CFF"/>
<circle cx="1033.5" cy="1997.1" r="6.0" fill="#C77CFF"/>
<circle cx="1092.7" cy="1988.0" r="6.0" fill="#C77CFF"/>
<circle cx="1151.8" cy="1995.8" r="6.0" fill="#C77CFF"/>
<circle cx="1211.2" cy="1998.3" r="6.0" fill="#C77CFF"/>
<circle cx="1270.3" cy="1993.4" r="6.0" fill="#C77CFF"/>
<circle cx="1329.4" cy="1988.0" r="6.0" fill="#C77CFF"/>
<circle cx="1447.8" cy="1942.8" r="6.0" fill="#C77CFF"/>
<circle cx="1507.0" cy="1976.9" r="6.0" fill="#C77CFF"/>
<circle cx="1566.5" cy="1987.0" r="6.0" fill="#C77CFF"/>
<circle cx="915.1" cy="1996.2" r="6.0" fill="#00BFC4"/>
<circle cx="974.5" cy="2005.5" r="6.0" fill="#00BFC4"/>
<circle cx="1033.5" cy="2003.6" r="6.0" fill="#00BFC4"/>
<circle cx="1092.7" cy="1992.5" r="6.0" fill="#00BFC4"/>
<circle cx="1151.8" cy="2004.5" r="6.0" fill="#00BFC4"/>
<circle cx="1211.2" cy="2004.0" r="6.0" fill="#00BFC4"/>
<circle cx="1270.3" cy="2002.6" r="6.0" fill="#00BFC4"/>
<circle cx="1329.4" cy="2002.6" r="6.0" fill="#00BFC4"/>
<circle cx="1388.6" cy="2002.6" r="6.0" fill="#00BFC4"/>
<circle cx="1447.8" cy="2004.0" r="6.0" fill="#00BFC4"/>
<circle cx="1507.0" cy="1996.8" r="6.0" fill="#00BFC4"/>
<circle cx="1566.5" cy="2000.3" r="6.0" fill="#00BFC4"/>
<path d="M915.1 1892.9 L974.5 1988.6 L1033.5 1979.6 L1092.7 1971.8 L1151.8 1980.6 L1211.2 1980.6 L1270.3 1964.0 L1329.4 1964.0 L1388.6 1951.0 L1447.8 1980.6 L1507.0 1951.0 L1566.5 1971.4" fill="none" stroke="#F8766D" stroke-width="2.70" stroke-linejoin="round" stroke-linecap="butt" />
<path d="M915.1 1931.9 L974.5 1996.8 L1033.5 1995.8 L1092.7 1912.4 L1151.8 1995.8 L1211.2 1995.8 L1270.3 1995.4 L1329.4 1995.4 L1388.6 1995.4 L1447.8 1995.4 L1507.0 1911.6 L1566.5 1980.8" fill="none" stroke="#7CAE00" stroke-width="2.70" stroke-linejoin="round" stroke-linecap="butt" />
<path d="M915.1 1996.2 L974.5 2005.5 L1033.5 2003.6 L1092.7 1992.5 L1151.8 2004.5 L1211.2 2004.0 L1270.3 2002.6 L1329.4 2002.6 L1388.6 2002.6 L1447.8 2004.0 L1507.0 1996.8 L1566.5 2000.3" fill="none" stroke="#00BFC4" stroke-width="2.70" stroke-linejoin="round" stroke-linecap="butt" />
<path d="M915.1 1983.7 L974.5 2001.6 L1033.5 1997.1 L1092.7 1988.0 L1151.8 1995.8 L1211.2 1998.3 L1270.3 1993.4 L1329.4 1988.0 L1447.8 1942.8 L1507.0 1976.9 L1566.5 1987.0" fill="none" stroke="#C77CFF" stroke-width="2.70" stroke-linejoin="round" stroke-linecap="butt" />
<line x1="1648.3" y1="1725.6" x2="1686.3" y2="1725.6" stroke="#F8766D" stroke-width="2.70" stroke-linecap="butt"/>
<circle cx="1667.3" cy="1725.6" r="6.0" fill="#F8766D"/>
<text x="1705.50" y="1741.4" font-size="44px" text-anchor="start" >Ammonium</text>
<line x1="1648.3" y1="1772.8" x2="1686.3" y2="1772.8" stroke="#7CAE00" stroke-width="2.70" stroke-linecap="butt"/>
<circle cx="1667.3" cy="1772.8" r="6.0" fill="#7CAE00"/>
<text x="1705.50" y="1788.6" font-size="44px" text-anchor="start" >Nitrate</text>
<line x1="1648.3" y1="1820.1" x2="1686.3" y2="1820.1" stroke="#00BFC4" stroke-width="2.70" stroke-linecap="butt"/>
<circle cx="1667.3" cy="1820.1" r="6.0" fill="#00BFC4"/>
<text x="1705.50" y="1835.9" font-size="44px" text-anchor="start" >Nitrite</text>
<line x1="1648.3" y1="1867.3" x2="1686.3" y2="1867.3" stroke="#C77CFF" stroke-width="2.70" stroke-linecap="butt"/>
<circle cx="1667.3" cy="1867.3" r="6.0" fill="#C77CFF"/>
<text x="1705.50" y="1883.1" font-size="44px" text-anchor="start" >Phosphate</text>
<rect x="80.29" y="243.60" width="9.25" height="6.40" fill="#fff"/>
<rect x="93.49" y="243.60" width="8.80" height="6.40" fill="#fff"/>
<rect x="55.59" y="429.90" width="9.25" height="6.40" fill="#fff"/>
<rect x="68.79" y="429.90" width="8.80" height="6.40" fill="#fff"/>
<rect x="55.59" y="523.10" width="9.25" height="6.40" fill="#fff"/>
<rect x="68.79" y="523.10" width="8.80" height="6.40" fill="#fff"/>
<rect x="356.27" y="622.50" width="9.25" height="6.40" fill="#fff"/>
<rect x="369.47" y="622.50" width="8.80" height="6.40" fill="#fff"/>
<rect x="377.68" y="622.50" width="9.25" height="6.40" fill="#fff"/>
<rect x="390.88" y="622.50" width="8.80" height="6.40" fill="#fff"/>
<rect x="617.43" y="622.50" width="9.25" height="6.40" fill="#fff"/>
<rect x="630.63" y="622.50" width="8.80" height="6.40" fill="#fff"/>
<rect x="1087.18" y="622.50" width="9.25" height="6.40" fill="#fff"/>
<rect x="1100.38" y="622.50" width="8.80" height="6.40" fill="#fff"/>
<rect x="1108.59" y="622.50" width="9.25" height="6.40" fill="#fff"/>
<rect x="1121.79" y="622.50" width="8.80" height="6.40" fill="#fff"/>
<rect x="1348.33" y="622.50" width="9.25" height="6.40" fill="#fff"/>
<rect x="1361.53" y="622.50" width="8.80" height="6.40" fill="#fff"/>
<rect x="55.59" y="1276.90" width="9.25" height="6.40" fill="#fff"/>
<rect x="68.79" y="1276.90" width="8.80" height="6.40" fill="#fff"/>
<rect x="346.13" y="1343.60" width="9.25" height="6.40" fill="#fff"/>
<rect x="359.33" y="1343.60" width="8.80" height="6.40" fill="#fff"/>
<rect x="1076.53" y="1343.60" width="9.25" height="6.40" fill="#fff"/>
<rect x="1089.73" y="1343.60" width="8.80" height="6.40" fill="#fff"/>
<rect x="756.63" y="2065.70" width="9.25" height="6.40" fill="#fff"/>
<rect x="769.83" y="2065.70" width="8.80" height="6.40" fill="#fff"/>
<rect x="1487.53" y="2065.70" width="9.25" height="6.40" fill="#fff"/>
<rect x="1500.73" y="2065.70" width="8.80" height="6.40" fill="#fff"/>
</svg>
</body>
</html>
